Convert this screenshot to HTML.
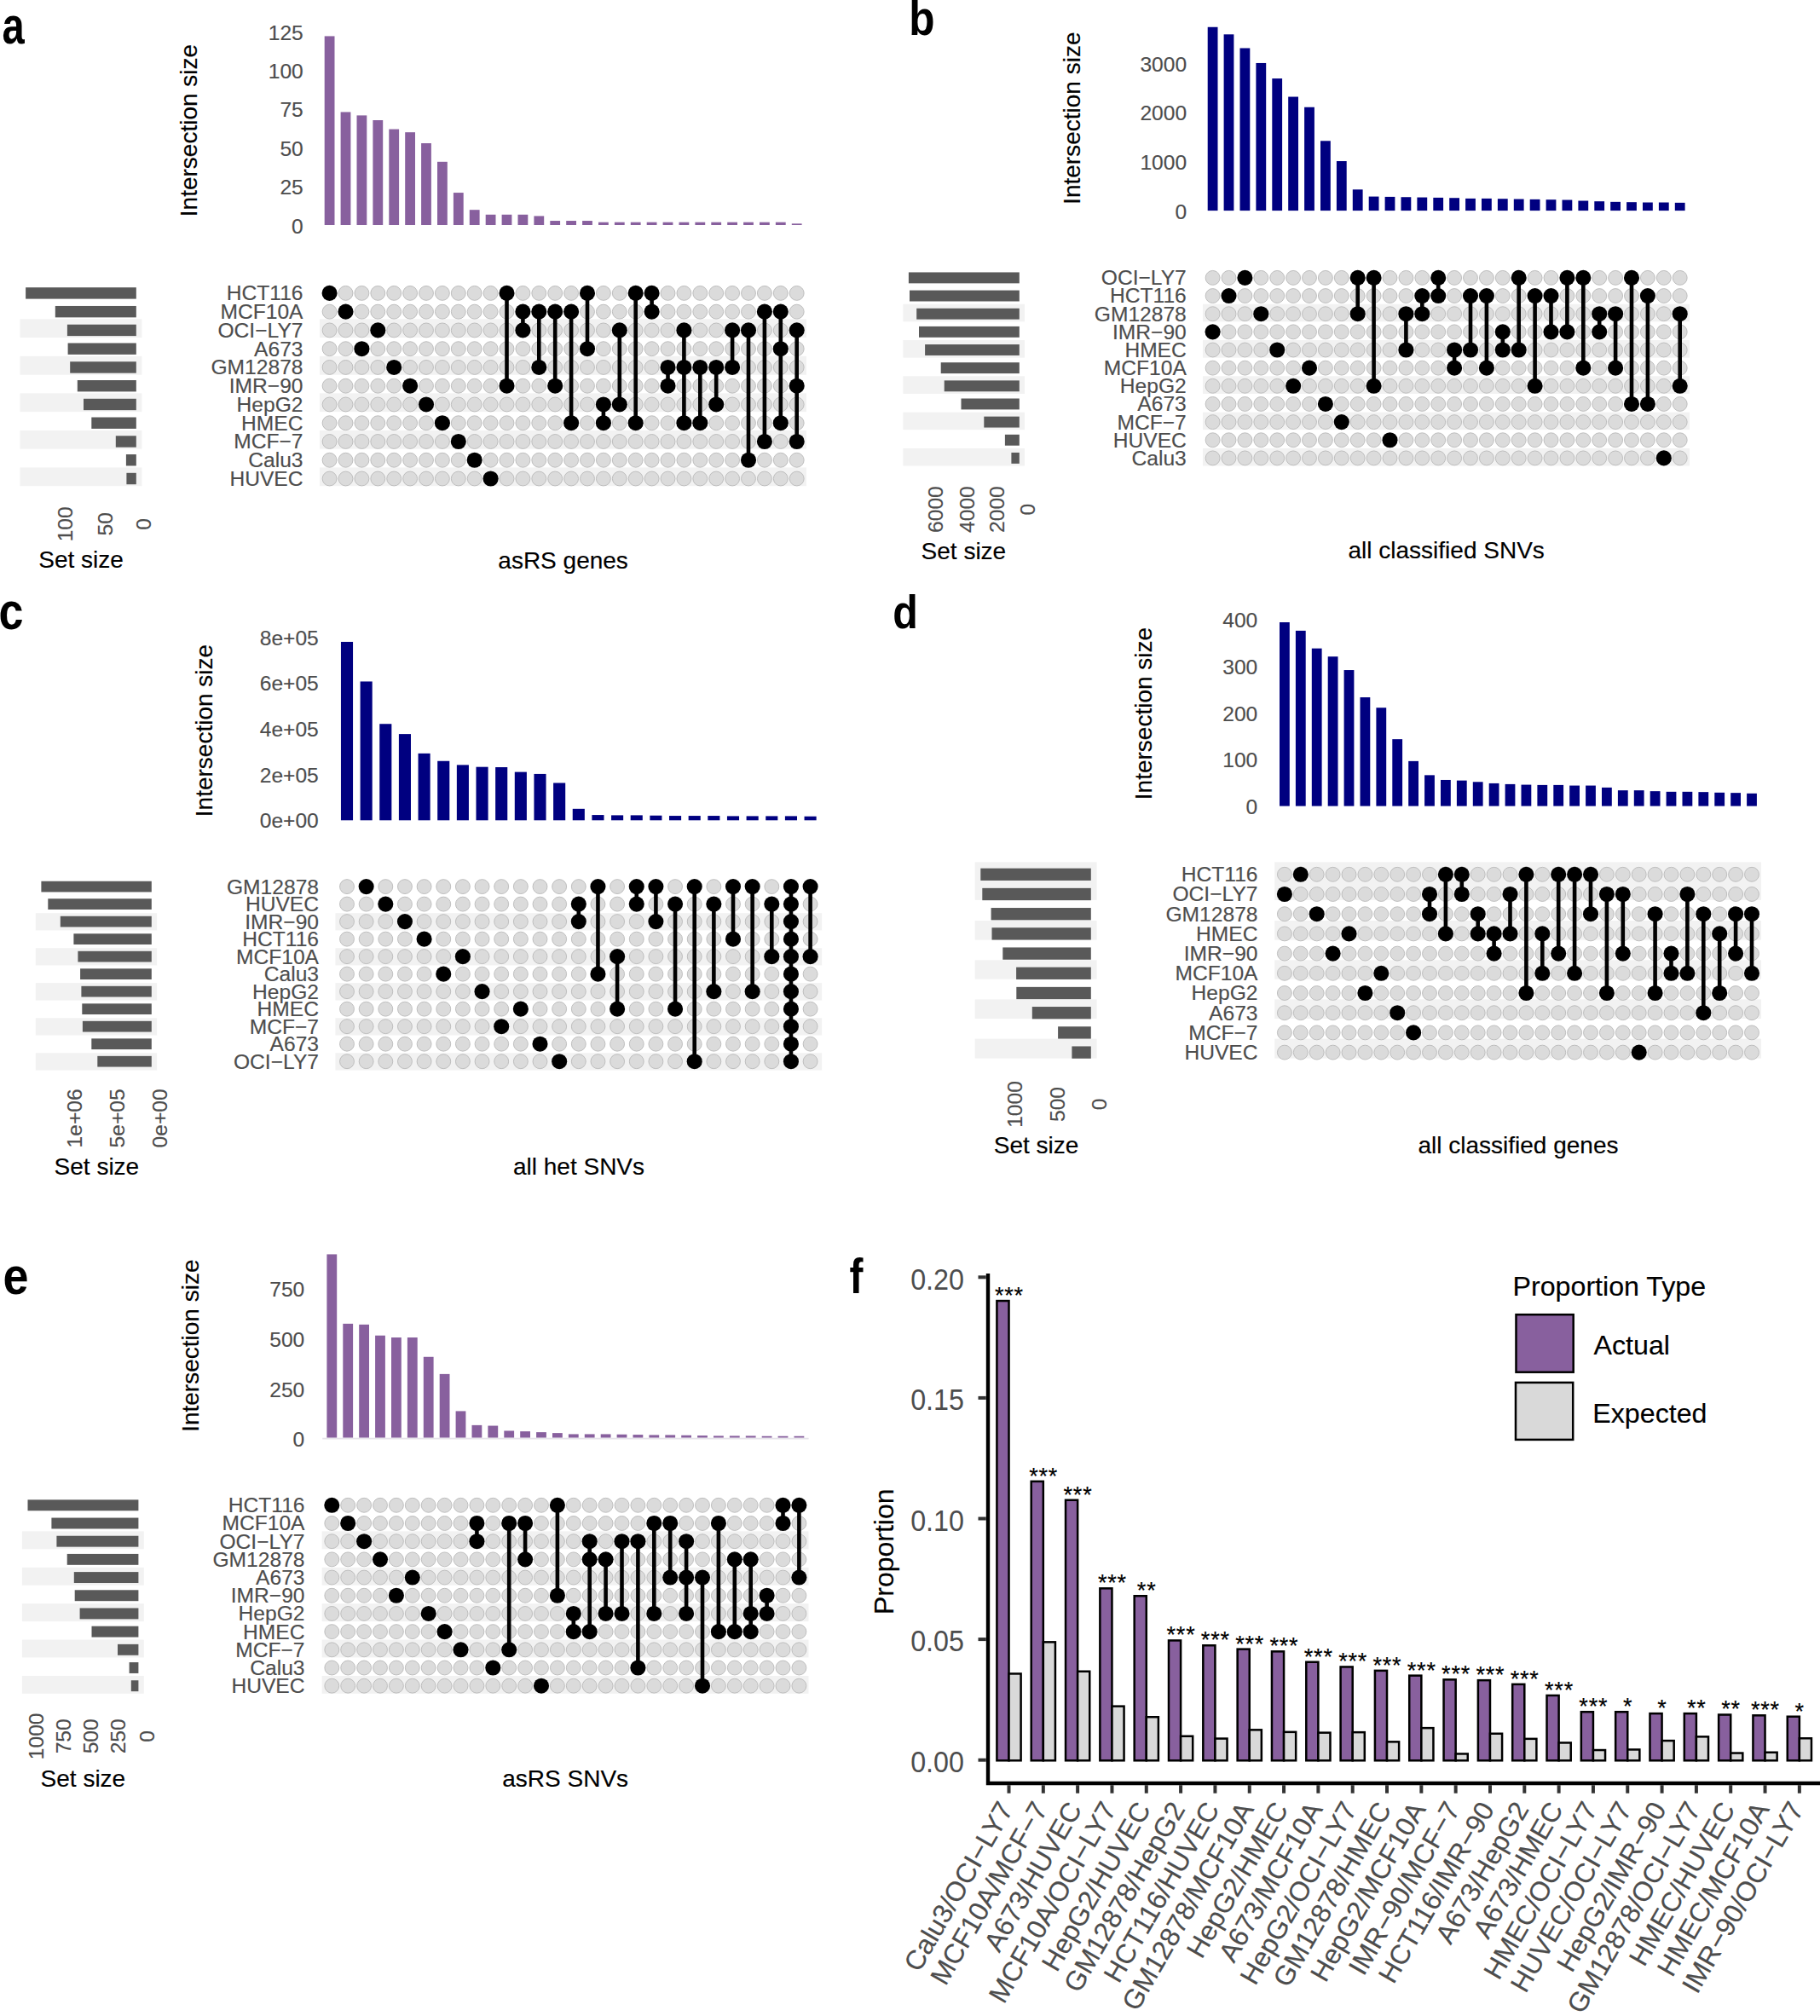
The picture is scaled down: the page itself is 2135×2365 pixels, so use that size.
<!DOCTYPE html>
<html lang="en"><head><meta charset="utf-8"><title>UpSet plots of allele-specific sets</title>
<style>
html,body{margin:0;padding:0;background:#fff}
svg{display:block;font-family:'Liberation Sans', sans-serif}
text{stroke-width:0.15px}
</style></head><body>
<svg width="2135" height="2365" viewBox="0 0 2135 2365">
<rect width="2135" height="2365" fill="#fff"/>
<g id="panel-a">
<text transform="translate(2.4 51) scale(0.76 1)" font-size="62" font-weight="bold">a</text>
<rect x="380.7" y="42.42" width="11.8" height="221.58" fill="#88609e"/>
<rect x="399.6" y="131.44" width="11.8" height="132.56" fill="#88609e"/>
<rect x="418.5" y="135.4" width="11.8" height="128.6" fill="#88609e"/>
<rect x="437.4" y="141" width="11.8" height="123" fill="#88609e"/>
<rect x="456.3" y="151.55" width="11.8" height="112.45" fill="#88609e"/>
<rect x="475.2" y="155.18" width="11.8" height="108.82" fill="#88609e"/>
<rect x="494.1" y="168.04" width="11.8" height="95.96" fill="#88609e"/>
<rect x="513" y="189.8" width="11.8" height="74.2" fill="#88609e"/>
<rect x="531.9" y="226.07" width="11.8" height="37.93" fill="#88609e"/>
<rect x="550.8" y="246.18" width="11.8" height="17.82" fill="#88609e"/>
<rect x="569.7" y="251.78" width="11.8" height="12.22" fill="#88609e"/>
<rect x="588.6" y="251.78" width="11.8" height="12.22" fill="#88609e"/>
<rect x="607.5" y="251.78" width="11.8" height="12.22" fill="#88609e"/>
<rect x="626.4" y="253.43" width="11.8" height="10.57" fill="#88609e"/>
<rect x="645.3" y="259.04" width="11.8" height="4.96" fill="#88609e"/>
<rect x="664.2" y="259.04" width="11.8" height="4.96" fill="#88609e"/>
<rect x="683.1" y="259.04" width="11.8" height="4.96" fill="#88609e"/>
<rect x="702" y="260.69" width="11.8" height="3.31" fill="#88609e"/>
<rect x="720.9" y="260.69" width="11.8" height="3.31" fill="#88609e"/>
<rect x="739.8" y="260.69" width="11.8" height="3.31" fill="#88609e"/>
<rect x="758.7" y="260.69" width="11.8" height="3.31" fill="#88609e"/>
<rect x="777.6" y="260.69" width="11.8" height="3.31" fill="#88609e"/>
<rect x="796.5" y="260.69" width="11.8" height="3.31" fill="#88609e"/>
<rect x="815.4" y="260.69" width="11.8" height="3.31" fill="#88609e"/>
<rect x="834.3" y="260.69" width="11.8" height="3.31" fill="#88609e"/>
<rect x="853.2" y="260.69" width="11.8" height="3.31" fill="#88609e"/>
<rect x="872.1" y="260.69" width="11.8" height="3.31" fill="#88609e"/>
<rect x="891" y="260.69" width="11.8" height="3.31" fill="#88609e"/>
<rect x="909.9" y="260.69" width="11.8" height="3.31" fill="#88609e"/>
<rect x="928.8" y="262.33" width="11.8" height="1.67" fill="#88609e"/>
<text x="355.8" y="273.61" font-size="24.6" text-anchor="end" fill="#4d4d4d" stroke="#4d4d4d">0</text>
<text x="355.8" y="228.21" font-size="24.6" text-anchor="end" fill="#4d4d4d" stroke="#4d4d4d">25</text>
<text x="355.8" y="182.81" font-size="24.6" text-anchor="end" fill="#4d4d4d" stroke="#4d4d4d">50</text>
<text x="355.8" y="137.41" font-size="24.6" text-anchor="end" fill="#4d4d4d" stroke="#4d4d4d">75</text>
<text x="355.8" y="92.01" font-size="24.6" text-anchor="end" fill="#4d4d4d" stroke="#4d4d4d">100</text>
<text x="355.8" y="46.61" font-size="24.6" text-anchor="end" fill="#4d4d4d" stroke="#4d4d4d">125</text>
<text transform="translate(231.2 153) rotate(-90)" font-size="28" text-anchor="middle" stroke="#000">Intersection size</text>
<rect x="375" y="374.32" width="571" height="21.8" fill="#f2f2f2"/>
<rect x="23.5" y="374.32" width="142.9" height="21.8" fill="#f2f2f2"/>
<rect x="375" y="417.84" width="571" height="21.8" fill="#f2f2f2"/>
<rect x="23.5" y="417.84" width="142.9" height="21.8" fill="#f2f2f2"/>
<rect x="375" y="461.36" width="571" height="21.8" fill="#f2f2f2"/>
<rect x="23.5" y="461.36" width="142.9" height="21.8" fill="#f2f2f2"/>
<rect x="375" y="504.88" width="571" height="21.8" fill="#f2f2f2"/>
<rect x="23.5" y="504.88" width="142.9" height="21.8" fill="#f2f2f2"/>
<rect x="375" y="548.4" width="571" height="21.8" fill="#f2f2f2"/>
<rect x="23.5" y="548.4" width="142.9" height="21.8" fill="#f2f2f2"/>
<rect x="30.1" y="337.2" width="129.7" height="13.4" fill="#595959"/>
<rect x="64.8" y="358.96" width="95" height="13.4" fill="#595959"/>
<rect x="78.9" y="380.72" width="80.9" height="13.4" fill="#595959"/>
<rect x="79.6" y="402.48" width="80.2" height="13.4" fill="#595959"/>
<rect x="82.2" y="424.24" width="77.6" height="13.4" fill="#595959"/>
<rect x="90.8" y="446" width="69" height="13.4" fill="#595959"/>
<rect x="98" y="467.76" width="61.8" height="13.4" fill="#595959"/>
<rect x="107.3" y="489.52" width="52.5" height="13.4" fill="#595959"/>
<rect x="135.8" y="511.28" width="24" height="13.4" fill="#595959"/>
<rect x="147.9" y="533.04" width="11.9" height="13.4" fill="#595959"/>
<rect x="148.4" y="554.8" width="11.4" height="13.4" fill="#595959"/>
<text x="355.5" y="352.31" font-size="24.6" text-anchor="end" fill="#4d4d4d" stroke="#4d4d4d">HCT116</text>
<text x="355.5" y="374.07" font-size="24.6" text-anchor="end" fill="#4d4d4d" stroke="#4d4d4d">MCF10A</text>
<text x="355.5" y="395.83" font-size="24.6" text-anchor="end" fill="#4d4d4d" stroke="#4d4d4d">OCI−LY7</text>
<text x="355.5" y="417.59" font-size="24.6" text-anchor="end" fill="#4d4d4d" stroke="#4d4d4d">A673</text>
<text x="355.5" y="439.35" font-size="24.6" text-anchor="end" fill="#4d4d4d" stroke="#4d4d4d">GM12878</text>
<text x="355.5" y="461.11" font-size="24.6" text-anchor="end" fill="#4d4d4d" stroke="#4d4d4d">IMR−90</text>
<text x="355.5" y="482.87" font-size="24.6" text-anchor="end" fill="#4d4d4d" stroke="#4d4d4d">HepG2</text>
<text x="355.5" y="504.63" font-size="24.6" text-anchor="end" fill="#4d4d4d" stroke="#4d4d4d">HMEC</text>
<text x="355.5" y="526.39" font-size="24.6" text-anchor="end" fill="#4d4d4d" stroke="#4d4d4d">MCF−7</text>
<text x="355.5" y="548.15" font-size="24.6" text-anchor="end" fill="#4d4d4d" stroke="#4d4d4d">Calu3</text>
<text x="355.5" y="569.91" font-size="24.6" text-anchor="end" fill="#4d4d4d" stroke="#4d4d4d">HUVEC</text>
<g fill="#dbdbdb" stroke="#b9b9b9" stroke-width="0.9">
<circle cx="386.6" cy="365.66" r="8.45"/>
<circle cx="386.6" cy="387.42" r="8.45"/>
<circle cx="386.6" cy="409.18" r="8.45"/>
<circle cx="386.6" cy="430.94" r="8.45"/>
<circle cx="386.6" cy="452.7" r="8.45"/>
<circle cx="386.6" cy="474.46" r="8.45"/>
<circle cx="386.6" cy="496.22" r="8.45"/>
<circle cx="386.6" cy="517.98" r="8.45"/>
<circle cx="386.6" cy="539.74" r="8.45"/>
<circle cx="386.6" cy="561.5" r="8.45"/>
<circle cx="405.5" cy="343.9" r="8.45"/>
<circle cx="405.5" cy="387.42" r="8.45"/>
<circle cx="405.5" cy="409.18" r="8.45"/>
<circle cx="405.5" cy="430.94" r="8.45"/>
<circle cx="405.5" cy="452.7" r="8.45"/>
<circle cx="405.5" cy="474.46" r="8.45"/>
<circle cx="405.5" cy="496.22" r="8.45"/>
<circle cx="405.5" cy="517.98" r="8.45"/>
<circle cx="405.5" cy="539.74" r="8.45"/>
<circle cx="405.5" cy="561.5" r="8.45"/>
<circle cx="424.4" cy="343.9" r="8.45"/>
<circle cx="424.4" cy="365.66" r="8.45"/>
<circle cx="424.4" cy="387.42" r="8.45"/>
<circle cx="424.4" cy="430.94" r="8.45"/>
<circle cx="424.4" cy="452.7" r="8.45"/>
<circle cx="424.4" cy="474.46" r="8.45"/>
<circle cx="424.4" cy="496.22" r="8.45"/>
<circle cx="424.4" cy="517.98" r="8.45"/>
<circle cx="424.4" cy="539.74" r="8.45"/>
<circle cx="424.4" cy="561.5" r="8.45"/>
<circle cx="443.3" cy="343.9" r="8.45"/>
<circle cx="443.3" cy="365.66" r="8.45"/>
<circle cx="443.3" cy="409.18" r="8.45"/>
<circle cx="443.3" cy="430.94" r="8.45"/>
<circle cx="443.3" cy="452.7" r="8.45"/>
<circle cx="443.3" cy="474.46" r="8.45"/>
<circle cx="443.3" cy="496.22" r="8.45"/>
<circle cx="443.3" cy="517.98" r="8.45"/>
<circle cx="443.3" cy="539.74" r="8.45"/>
<circle cx="443.3" cy="561.5" r="8.45"/>
<circle cx="462.2" cy="343.9" r="8.45"/>
<circle cx="462.2" cy="365.66" r="8.45"/>
<circle cx="462.2" cy="387.42" r="8.45"/>
<circle cx="462.2" cy="409.18" r="8.45"/>
<circle cx="462.2" cy="452.7" r="8.45"/>
<circle cx="462.2" cy="474.46" r="8.45"/>
<circle cx="462.2" cy="496.22" r="8.45"/>
<circle cx="462.2" cy="517.98" r="8.45"/>
<circle cx="462.2" cy="539.74" r="8.45"/>
<circle cx="462.2" cy="561.5" r="8.45"/>
<circle cx="481.1" cy="343.9" r="8.45"/>
<circle cx="481.1" cy="365.66" r="8.45"/>
<circle cx="481.1" cy="387.42" r="8.45"/>
<circle cx="481.1" cy="409.18" r="8.45"/>
<circle cx="481.1" cy="430.94" r="8.45"/>
<circle cx="481.1" cy="474.46" r="8.45"/>
<circle cx="481.1" cy="496.22" r="8.45"/>
<circle cx="481.1" cy="517.98" r="8.45"/>
<circle cx="481.1" cy="539.74" r="8.45"/>
<circle cx="481.1" cy="561.5" r="8.45"/>
<circle cx="500" cy="343.9" r="8.45"/>
<circle cx="500" cy="365.66" r="8.45"/>
<circle cx="500" cy="387.42" r="8.45"/>
<circle cx="500" cy="409.18" r="8.45"/>
<circle cx="500" cy="430.94" r="8.45"/>
<circle cx="500" cy="452.7" r="8.45"/>
<circle cx="500" cy="496.22" r="8.45"/>
<circle cx="500" cy="517.98" r="8.45"/>
<circle cx="500" cy="539.74" r="8.45"/>
<circle cx="500" cy="561.5" r="8.45"/>
<circle cx="518.9" cy="343.9" r="8.45"/>
<circle cx="518.9" cy="365.66" r="8.45"/>
<circle cx="518.9" cy="387.42" r="8.45"/>
<circle cx="518.9" cy="409.18" r="8.45"/>
<circle cx="518.9" cy="430.94" r="8.45"/>
<circle cx="518.9" cy="452.7" r="8.45"/>
<circle cx="518.9" cy="474.46" r="8.45"/>
<circle cx="518.9" cy="517.98" r="8.45"/>
<circle cx="518.9" cy="539.74" r="8.45"/>
<circle cx="518.9" cy="561.5" r="8.45"/>
<circle cx="537.8" cy="343.9" r="8.45"/>
<circle cx="537.8" cy="365.66" r="8.45"/>
<circle cx="537.8" cy="387.42" r="8.45"/>
<circle cx="537.8" cy="409.18" r="8.45"/>
<circle cx="537.8" cy="430.94" r="8.45"/>
<circle cx="537.8" cy="452.7" r="8.45"/>
<circle cx="537.8" cy="474.46" r="8.45"/>
<circle cx="537.8" cy="496.22" r="8.45"/>
<circle cx="537.8" cy="539.74" r="8.45"/>
<circle cx="537.8" cy="561.5" r="8.45"/>
<circle cx="556.7" cy="343.9" r="8.45"/>
<circle cx="556.7" cy="365.66" r="8.45"/>
<circle cx="556.7" cy="387.42" r="8.45"/>
<circle cx="556.7" cy="409.18" r="8.45"/>
<circle cx="556.7" cy="430.94" r="8.45"/>
<circle cx="556.7" cy="452.7" r="8.45"/>
<circle cx="556.7" cy="474.46" r="8.45"/>
<circle cx="556.7" cy="496.22" r="8.45"/>
<circle cx="556.7" cy="517.98" r="8.45"/>
<circle cx="556.7" cy="561.5" r="8.45"/>
<circle cx="575.6" cy="343.9" r="8.45"/>
<circle cx="575.6" cy="365.66" r="8.45"/>
<circle cx="575.6" cy="387.42" r="8.45"/>
<circle cx="575.6" cy="409.18" r="8.45"/>
<circle cx="575.6" cy="430.94" r="8.45"/>
<circle cx="575.6" cy="452.7" r="8.45"/>
<circle cx="575.6" cy="474.46" r="8.45"/>
<circle cx="575.6" cy="496.22" r="8.45"/>
<circle cx="575.6" cy="517.98" r="8.45"/>
<circle cx="575.6" cy="539.74" r="8.45"/>
<circle cx="594.5" cy="365.66" r="8.45"/>
<circle cx="594.5" cy="387.42" r="8.45"/>
<circle cx="594.5" cy="409.18" r="8.45"/>
<circle cx="594.5" cy="430.94" r="8.45"/>
<circle cx="594.5" cy="474.46" r="8.45"/>
<circle cx="594.5" cy="496.22" r="8.45"/>
<circle cx="594.5" cy="517.98" r="8.45"/>
<circle cx="594.5" cy="539.74" r="8.45"/>
<circle cx="594.5" cy="561.5" r="8.45"/>
<circle cx="613.4" cy="343.9" r="8.45"/>
<circle cx="613.4" cy="409.18" r="8.45"/>
<circle cx="613.4" cy="430.94" r="8.45"/>
<circle cx="613.4" cy="452.7" r="8.45"/>
<circle cx="613.4" cy="474.46" r="8.45"/>
<circle cx="613.4" cy="496.22" r="8.45"/>
<circle cx="613.4" cy="517.98" r="8.45"/>
<circle cx="613.4" cy="539.74" r="8.45"/>
<circle cx="613.4" cy="561.5" r="8.45"/>
<circle cx="632.3" cy="343.9" r="8.45"/>
<circle cx="632.3" cy="387.42" r="8.45"/>
<circle cx="632.3" cy="409.18" r="8.45"/>
<circle cx="632.3" cy="452.7" r="8.45"/>
<circle cx="632.3" cy="474.46" r="8.45"/>
<circle cx="632.3" cy="496.22" r="8.45"/>
<circle cx="632.3" cy="517.98" r="8.45"/>
<circle cx="632.3" cy="539.74" r="8.45"/>
<circle cx="632.3" cy="561.5" r="8.45"/>
<circle cx="651.2" cy="343.9" r="8.45"/>
<circle cx="651.2" cy="387.42" r="8.45"/>
<circle cx="651.2" cy="409.18" r="8.45"/>
<circle cx="651.2" cy="430.94" r="8.45"/>
<circle cx="651.2" cy="474.46" r="8.45"/>
<circle cx="651.2" cy="496.22" r="8.45"/>
<circle cx="651.2" cy="517.98" r="8.45"/>
<circle cx="651.2" cy="539.74" r="8.45"/>
<circle cx="651.2" cy="561.5" r="8.45"/>
<circle cx="670.1" cy="343.9" r="8.45"/>
<circle cx="670.1" cy="387.42" r="8.45"/>
<circle cx="670.1" cy="409.18" r="8.45"/>
<circle cx="670.1" cy="430.94" r="8.45"/>
<circle cx="670.1" cy="452.7" r="8.45"/>
<circle cx="670.1" cy="474.46" r="8.45"/>
<circle cx="670.1" cy="517.98" r="8.45"/>
<circle cx="670.1" cy="539.74" r="8.45"/>
<circle cx="670.1" cy="561.5" r="8.45"/>
<circle cx="689" cy="365.66" r="8.45"/>
<circle cx="689" cy="387.42" r="8.45"/>
<circle cx="689" cy="430.94" r="8.45"/>
<circle cx="689" cy="452.7" r="8.45"/>
<circle cx="689" cy="474.46" r="8.45"/>
<circle cx="689" cy="496.22" r="8.45"/>
<circle cx="689" cy="517.98" r="8.45"/>
<circle cx="689" cy="539.74" r="8.45"/>
<circle cx="689" cy="561.5" r="8.45"/>
<circle cx="707.9" cy="343.9" r="8.45"/>
<circle cx="707.9" cy="365.66" r="8.45"/>
<circle cx="707.9" cy="387.42" r="8.45"/>
<circle cx="707.9" cy="409.18" r="8.45"/>
<circle cx="707.9" cy="430.94" r="8.45"/>
<circle cx="707.9" cy="452.7" r="8.45"/>
<circle cx="707.9" cy="517.98" r="8.45"/>
<circle cx="707.9" cy="539.74" r="8.45"/>
<circle cx="707.9" cy="561.5" r="8.45"/>
<circle cx="726.8" cy="343.9" r="8.45"/>
<circle cx="726.8" cy="365.66" r="8.45"/>
<circle cx="726.8" cy="409.18" r="8.45"/>
<circle cx="726.8" cy="430.94" r="8.45"/>
<circle cx="726.8" cy="452.7" r="8.45"/>
<circle cx="726.8" cy="496.22" r="8.45"/>
<circle cx="726.8" cy="517.98" r="8.45"/>
<circle cx="726.8" cy="539.74" r="8.45"/>
<circle cx="726.8" cy="561.5" r="8.45"/>
<circle cx="745.7" cy="365.66" r="8.45"/>
<circle cx="745.7" cy="387.42" r="8.45"/>
<circle cx="745.7" cy="409.18" r="8.45"/>
<circle cx="745.7" cy="430.94" r="8.45"/>
<circle cx="745.7" cy="452.7" r="8.45"/>
<circle cx="745.7" cy="474.46" r="8.45"/>
<circle cx="745.7" cy="517.98" r="8.45"/>
<circle cx="745.7" cy="539.74" r="8.45"/>
<circle cx="745.7" cy="561.5" r="8.45"/>
<circle cx="764.6" cy="387.42" r="8.45"/>
<circle cx="764.6" cy="409.18" r="8.45"/>
<circle cx="764.6" cy="430.94" r="8.45"/>
<circle cx="764.6" cy="452.7" r="8.45"/>
<circle cx="764.6" cy="474.46" r="8.45"/>
<circle cx="764.6" cy="496.22" r="8.45"/>
<circle cx="764.6" cy="517.98" r="8.45"/>
<circle cx="764.6" cy="539.74" r="8.45"/>
<circle cx="764.6" cy="561.5" r="8.45"/>
<circle cx="783.5" cy="343.9" r="8.45"/>
<circle cx="783.5" cy="365.66" r="8.45"/>
<circle cx="783.5" cy="387.42" r="8.45"/>
<circle cx="783.5" cy="409.18" r="8.45"/>
<circle cx="783.5" cy="474.46" r="8.45"/>
<circle cx="783.5" cy="496.22" r="8.45"/>
<circle cx="783.5" cy="517.98" r="8.45"/>
<circle cx="783.5" cy="539.74" r="8.45"/>
<circle cx="783.5" cy="561.5" r="8.45"/>
<circle cx="802.4" cy="343.9" r="8.45"/>
<circle cx="802.4" cy="365.66" r="8.45"/>
<circle cx="802.4" cy="409.18" r="8.45"/>
<circle cx="802.4" cy="452.7" r="8.45"/>
<circle cx="802.4" cy="474.46" r="8.45"/>
<circle cx="802.4" cy="517.98" r="8.45"/>
<circle cx="802.4" cy="539.74" r="8.45"/>
<circle cx="802.4" cy="561.5" r="8.45"/>
<circle cx="821.3" cy="343.9" r="8.45"/>
<circle cx="821.3" cy="365.66" r="8.45"/>
<circle cx="821.3" cy="387.42" r="8.45"/>
<circle cx="821.3" cy="409.18" r="8.45"/>
<circle cx="821.3" cy="452.7" r="8.45"/>
<circle cx="821.3" cy="474.46" r="8.45"/>
<circle cx="821.3" cy="517.98" r="8.45"/>
<circle cx="821.3" cy="539.74" r="8.45"/>
<circle cx="821.3" cy="561.5" r="8.45"/>
<circle cx="840.2" cy="343.9" r="8.45"/>
<circle cx="840.2" cy="365.66" r="8.45"/>
<circle cx="840.2" cy="387.42" r="8.45"/>
<circle cx="840.2" cy="409.18" r="8.45"/>
<circle cx="840.2" cy="452.7" r="8.45"/>
<circle cx="840.2" cy="496.22" r="8.45"/>
<circle cx="840.2" cy="517.98" r="8.45"/>
<circle cx="840.2" cy="539.74" r="8.45"/>
<circle cx="840.2" cy="561.5" r="8.45"/>
<circle cx="859.1" cy="343.9" r="8.45"/>
<circle cx="859.1" cy="365.66" r="8.45"/>
<circle cx="859.1" cy="409.18" r="8.45"/>
<circle cx="859.1" cy="452.7" r="8.45"/>
<circle cx="859.1" cy="474.46" r="8.45"/>
<circle cx="859.1" cy="496.22" r="8.45"/>
<circle cx="859.1" cy="517.98" r="8.45"/>
<circle cx="859.1" cy="539.74" r="8.45"/>
<circle cx="859.1" cy="561.5" r="8.45"/>
<circle cx="878" cy="343.9" r="8.45"/>
<circle cx="878" cy="365.66" r="8.45"/>
<circle cx="878" cy="409.18" r="8.45"/>
<circle cx="878" cy="430.94" r="8.45"/>
<circle cx="878" cy="452.7" r="8.45"/>
<circle cx="878" cy="474.46" r="8.45"/>
<circle cx="878" cy="496.22" r="8.45"/>
<circle cx="878" cy="517.98" r="8.45"/>
<circle cx="878" cy="561.5" r="8.45"/>
<circle cx="896.9" cy="343.9" r="8.45"/>
<circle cx="896.9" cy="387.42" r="8.45"/>
<circle cx="896.9" cy="409.18" r="8.45"/>
<circle cx="896.9" cy="430.94" r="8.45"/>
<circle cx="896.9" cy="452.7" r="8.45"/>
<circle cx="896.9" cy="474.46" r="8.45"/>
<circle cx="896.9" cy="496.22" r="8.45"/>
<circle cx="896.9" cy="539.74" r="8.45"/>
<circle cx="896.9" cy="561.5" r="8.45"/>
<circle cx="915.8" cy="343.9" r="8.45"/>
<circle cx="915.8" cy="387.42" r="8.45"/>
<circle cx="915.8" cy="430.94" r="8.45"/>
<circle cx="915.8" cy="452.7" r="8.45"/>
<circle cx="915.8" cy="474.46" r="8.45"/>
<circle cx="915.8" cy="517.98" r="8.45"/>
<circle cx="915.8" cy="539.74" r="8.45"/>
<circle cx="915.8" cy="561.5" r="8.45"/>
<circle cx="934.7" cy="343.9" r="8.45"/>
<circle cx="934.7" cy="365.66" r="8.45"/>
<circle cx="934.7" cy="409.18" r="8.45"/>
<circle cx="934.7" cy="430.94" r="8.45"/>
<circle cx="934.7" cy="474.46" r="8.45"/>
<circle cx="934.7" cy="496.22" r="8.45"/>
<circle cx="934.7" cy="539.74" r="8.45"/>
<circle cx="934.7" cy="561.5" r="8.45"/>
</g>
<g fill="#000" stroke="#000" stroke-width="4.6">
<line x1="594.5" x2="594.5" y1="343.9" y2="452.7"/>
<line x1="613.4" x2="613.4" y1="365.66" y2="387.42"/>
<line x1="632.3" x2="632.3" y1="365.66" y2="430.94"/>
<line x1="651.2" x2="651.2" y1="365.66" y2="452.7"/>
<line x1="670.1" x2="670.1" y1="365.66" y2="496.22"/>
<line x1="689" x2="689" y1="343.9" y2="409.18"/>
<line x1="707.9" x2="707.9" y1="474.46" y2="496.22"/>
<line x1="726.8" x2="726.8" y1="387.42" y2="474.46"/>
<line x1="745.7" x2="745.7" y1="343.9" y2="496.22"/>
<line x1="764.6" x2="764.6" y1="343.9" y2="365.66"/>
<line x1="783.5" x2="783.5" y1="430.94" y2="452.7"/>
<line x1="802.4" x2="802.4" y1="387.42" y2="496.22"/>
<line x1="821.3" x2="821.3" y1="430.94" y2="496.22"/>
<line x1="840.2" x2="840.2" y1="430.94" y2="474.46"/>
<line x1="859.1" x2="859.1" y1="387.42" y2="430.94"/>
<line x1="878" x2="878" y1="387.42" y2="539.74"/>
<line x1="896.9" x2="896.9" y1="365.66" y2="517.98"/>
<line x1="915.8" x2="915.8" y1="365.66" y2="496.22"/>
<line x1="934.7" x2="934.7" y1="387.42" y2="517.98"/>
</g><g fill="#000">
<circle cx="386.6" cy="343.9" r="9.05"/>
<circle cx="405.5" cy="365.66" r="9.05"/>
<circle cx="424.4" cy="409.18" r="9.05"/>
<circle cx="443.3" cy="387.42" r="9.05"/>
<circle cx="462.2" cy="430.94" r="9.05"/>
<circle cx="481.1" cy="452.7" r="9.05"/>
<circle cx="500" cy="474.46" r="9.05"/>
<circle cx="518.9" cy="496.22" r="9.05"/>
<circle cx="537.8" cy="517.98" r="9.05"/>
<circle cx="556.7" cy="539.74" r="9.05"/>
<circle cx="575.6" cy="561.5" r="9.05"/>
<circle cx="594.5" cy="343.9" r="9.05"/>
<circle cx="594.5" cy="452.7" r="9.05"/>
<circle cx="613.4" cy="365.66" r="9.05"/>
<circle cx="613.4" cy="387.42" r="9.05"/>
<circle cx="632.3" cy="365.66" r="9.05"/>
<circle cx="632.3" cy="430.94" r="9.05"/>
<circle cx="651.2" cy="365.66" r="9.05"/>
<circle cx="651.2" cy="452.7" r="9.05"/>
<circle cx="670.1" cy="365.66" r="9.05"/>
<circle cx="670.1" cy="496.22" r="9.05"/>
<circle cx="689" cy="343.9" r="9.05"/>
<circle cx="689" cy="409.18" r="9.05"/>
<circle cx="707.9" cy="474.46" r="9.05"/>
<circle cx="707.9" cy="496.22" r="9.05"/>
<circle cx="726.8" cy="387.42" r="9.05"/>
<circle cx="726.8" cy="474.46" r="9.05"/>
<circle cx="745.7" cy="343.9" r="9.05"/>
<circle cx="745.7" cy="496.22" r="9.05"/>
<circle cx="764.6" cy="343.9" r="9.05"/>
<circle cx="764.6" cy="365.66" r="9.05"/>
<circle cx="783.5" cy="430.94" r="9.05"/>
<circle cx="783.5" cy="452.7" r="9.05"/>
<circle cx="802.4" cy="387.42" r="9.05"/>
<circle cx="802.4" cy="430.94" r="9.05"/>
<circle cx="802.4" cy="496.22" r="9.05"/>
<circle cx="821.3" cy="430.94" r="9.05"/>
<circle cx="821.3" cy="496.22" r="9.05"/>
<circle cx="840.2" cy="430.94" r="9.05"/>
<circle cx="840.2" cy="474.46" r="9.05"/>
<circle cx="859.1" cy="387.42" r="9.05"/>
<circle cx="859.1" cy="430.94" r="9.05"/>
<circle cx="878" cy="387.42" r="9.05"/>
<circle cx="878" cy="539.74" r="9.05"/>
<circle cx="896.9" cy="365.66" r="9.05"/>
<circle cx="896.9" cy="517.98" r="9.05"/>
<circle cx="915.8" cy="365.66" r="9.05"/>
<circle cx="915.8" cy="409.18" r="9.05"/>
<circle cx="915.8" cy="496.22" r="9.05"/>
<circle cx="934.7" cy="387.42" r="9.05"/>
<circle cx="934.7" cy="452.7" r="9.05"/>
<circle cx="934.7" cy="517.98" r="9.05"/>
</g>
<text transform="translate(85.31 614.8) rotate(-90)" font-size="24.6" text-anchor="middle" fill="#4d4d4d" stroke="#4d4d4d">100</text>
<text transform="translate(131.91 614.8) rotate(-90)" font-size="24.6" text-anchor="middle" fill="#4d4d4d" stroke="#4d4d4d">50</text>
<text transform="translate(176.91 614.8) rotate(-90)" font-size="24.6" text-anchor="middle" fill="#4d4d4d" stroke="#4d4d4d">0</text>
<text x="95.1" y="666" font-size="28" text-anchor="middle" stroke="#000">Set size</text>
<text x="660.6" y="666.5" font-size="28" text-anchor="middle" stroke="#000">asRS genes</text>
</g>
<g id="panel-b">
<text transform="translate(1066.3 40.7) scale(0.87 1)" font-size="57" font-weight="bold">b</text>
<rect x="1416.7" y="31.76" width="11.8" height="215.34" fill="#000080"/>
<rect x="1435.6" y="40.33" width="11.8" height="206.77" fill="#000080"/>
<rect x="1454.5" y="56.49" width="11.8" height="190.61" fill="#000080"/>
<rect x="1473.4" y="73.96" width="11.8" height="173.14" fill="#000080"/>
<rect x="1492.3" y="92.1" width="11.8" height="155" fill="#000080"/>
<rect x="1511.2" y="113.53" width="11.8" height="133.57" fill="#000080"/>
<rect x="1530.1" y="125.73" width="11.8" height="121.37" fill="#000080"/>
<rect x="1549" y="165.29" width="11.8" height="81.81" fill="#000080"/>
<rect x="1567.9" y="189.03" width="11.8" height="58.07" fill="#000080"/>
<rect x="1586.8" y="222.33" width="11.8" height="24.77" fill="#000080"/>
<rect x="1605.7" y="230.57" width="11.8" height="16.53" fill="#000080"/>
<rect x="1624.6" y="230.9" width="11.8" height="16.2" fill="#000080"/>
<rect x="1643.5" y="231.23" width="11.8" height="15.87" fill="#000080"/>
<rect x="1662.4" y="231.56" width="11.8" height="15.54" fill="#000080"/>
<rect x="1681.3" y="231.89" width="11.8" height="15.21" fill="#000080"/>
<rect x="1700.2" y="232.22" width="11.8" height="14.88" fill="#000080"/>
<rect x="1719.1" y="232.88" width="11.8" height="14.22" fill="#000080"/>
<rect x="1738" y="232.88" width="11.8" height="14.22" fill="#000080"/>
<rect x="1756.9" y="233.21" width="11.8" height="13.89" fill="#000080"/>
<rect x="1775.8" y="233.54" width="11.8" height="13.56" fill="#000080"/>
<rect x="1794.7" y="233.87" width="11.8" height="13.23" fill="#000080"/>
<rect x="1813.6" y="234.2" width="11.8" height="12.9" fill="#000080"/>
<rect x="1832.5" y="234.53" width="11.8" height="12.57" fill="#000080"/>
<rect x="1851.4" y="235.52" width="11.8" height="11.58" fill="#000080"/>
<rect x="1870.3" y="236.18" width="11.8" height="10.92" fill="#000080"/>
<rect x="1889.2" y="236.84" width="11.8" height="10.26" fill="#000080"/>
<rect x="1908.1" y="237.17" width="11.8" height="9.93" fill="#000080"/>
<rect x="1927" y="237.5" width="11.8" height="9.6" fill="#000080"/>
<rect x="1945.9" y="237.5" width="11.8" height="9.6" fill="#000080"/>
<rect x="1964.8" y="237.83" width="11.8" height="9.27" fill="#000080"/>
<text x="1392.1" y="256.61" font-size="24.6" text-anchor="end" fill="#4d4d4d" stroke="#4d4d4d">0</text>
<text x="1392.1" y="198.91" font-size="24.6" text-anchor="end" fill="#4d4d4d" stroke="#4d4d4d">1000</text>
<text x="1392.1" y="141.21" font-size="24.6" text-anchor="end" fill="#4d4d4d" stroke="#4d4d4d">2000</text>
<text x="1392.1" y="83.51" font-size="24.6" text-anchor="end" fill="#4d4d4d" stroke="#4d4d4d">3000</text>
<text transform="translate(1267 138.7) rotate(-90)" font-size="28" text-anchor="middle" stroke="#000">Intersection size</text>
<rect x="1411" y="356.7" width="571" height="20.6" fill="#f2f2f2"/>
<rect x="1059.3" y="356.7" width="142.7" height="20.6" fill="#f2f2f2"/>
<rect x="1411" y="399" width="571" height="20.6" fill="#f2f2f2"/>
<rect x="1059.3" y="399" width="142.7" height="20.6" fill="#f2f2f2"/>
<rect x="1411" y="441.3" width="571" height="20.6" fill="#f2f2f2"/>
<rect x="1059.3" y="441.3" width="142.7" height="20.6" fill="#f2f2f2"/>
<rect x="1411" y="483.6" width="571" height="20.6" fill="#f2f2f2"/>
<rect x="1059.3" y="483.6" width="142.7" height="20.6" fill="#f2f2f2"/>
<rect x="1411" y="525.9" width="571" height="20.6" fill="#f2f2f2"/>
<rect x="1059.3" y="525.9" width="142.7" height="20.6" fill="#f2f2f2"/>
<rect x="1065.9" y="319.45" width="129.9" height="12.9" fill="#595959"/>
<rect x="1067" y="340.6" width="128.8" height="12.9" fill="#595959"/>
<rect x="1075.2" y="361.75" width="120.6" height="12.9" fill="#595959"/>
<rect x="1078" y="382.9" width="117.8" height="12.9" fill="#595959"/>
<rect x="1085.1" y="404.05" width="110.7" height="12.9" fill="#595959"/>
<rect x="1103.7" y="425.2" width="92.1" height="12.9" fill="#595959"/>
<rect x="1107.7" y="446.35" width="88.1" height="12.9" fill="#595959"/>
<rect x="1127.5" y="467.5" width="68.3" height="12.9" fill="#595959"/>
<rect x="1154.3" y="488.65" width="41.5" height="12.9" fill="#595959"/>
<rect x="1178.9" y="509.8" width="16.9" height="12.9" fill="#595959"/>
<rect x="1186.4" y="530.95" width="9.4" height="12.9" fill="#595959"/>
<text x="1391.8" y="334.31" font-size="24.6" text-anchor="end" fill="#4d4d4d" stroke="#4d4d4d">OCI−LY7</text>
<text x="1391.8" y="355.46" font-size="24.6" text-anchor="end" fill="#4d4d4d" stroke="#4d4d4d">HCT116</text>
<text x="1391.8" y="376.61" font-size="24.6" text-anchor="end" fill="#4d4d4d" stroke="#4d4d4d">GM12878</text>
<text x="1391.8" y="397.76" font-size="24.6" text-anchor="end" fill="#4d4d4d" stroke="#4d4d4d">IMR−90</text>
<text x="1391.8" y="418.91" font-size="24.6" text-anchor="end" fill="#4d4d4d" stroke="#4d4d4d">HMEC</text>
<text x="1391.8" y="440.06" font-size="24.6" text-anchor="end" fill="#4d4d4d" stroke="#4d4d4d">MCF10A</text>
<text x="1391.8" y="461.21" font-size="24.6" text-anchor="end" fill="#4d4d4d" stroke="#4d4d4d">HepG2</text>
<text x="1391.8" y="482.36" font-size="24.6" text-anchor="end" fill="#4d4d4d" stroke="#4d4d4d">A673</text>
<text x="1391.8" y="503.51" font-size="24.6" text-anchor="end" fill="#4d4d4d" stroke="#4d4d4d">MCF−7</text>
<text x="1391.8" y="524.66" font-size="24.6" text-anchor="end" fill="#4d4d4d" stroke="#4d4d4d">HUVEC</text>
<text x="1391.8" y="545.81" font-size="24.6" text-anchor="end" fill="#4d4d4d" stroke="#4d4d4d">Calu3</text>
<g fill="#dbdbdb" stroke="#b9b9b9" stroke-width="0.9">
<circle cx="1422.6" cy="325.9" r="8.45"/>
<circle cx="1422.6" cy="347.05" r="8.45"/>
<circle cx="1422.6" cy="368.2" r="8.45"/>
<circle cx="1422.6" cy="410.5" r="8.45"/>
<circle cx="1422.6" cy="431.65" r="8.45"/>
<circle cx="1422.6" cy="452.8" r="8.45"/>
<circle cx="1422.6" cy="473.95" r="8.45"/>
<circle cx="1422.6" cy="495.1" r="8.45"/>
<circle cx="1422.6" cy="516.25" r="8.45"/>
<circle cx="1422.6" cy="537.4" r="8.45"/>
<circle cx="1441.5" cy="325.9" r="8.45"/>
<circle cx="1441.5" cy="368.2" r="8.45"/>
<circle cx="1441.5" cy="389.35" r="8.45"/>
<circle cx="1441.5" cy="410.5" r="8.45"/>
<circle cx="1441.5" cy="431.65" r="8.45"/>
<circle cx="1441.5" cy="452.8" r="8.45"/>
<circle cx="1441.5" cy="473.95" r="8.45"/>
<circle cx="1441.5" cy="495.1" r="8.45"/>
<circle cx="1441.5" cy="516.25" r="8.45"/>
<circle cx="1441.5" cy="537.4" r="8.45"/>
<circle cx="1460.4" cy="347.05" r="8.45"/>
<circle cx="1460.4" cy="368.2" r="8.45"/>
<circle cx="1460.4" cy="389.35" r="8.45"/>
<circle cx="1460.4" cy="410.5" r="8.45"/>
<circle cx="1460.4" cy="431.65" r="8.45"/>
<circle cx="1460.4" cy="452.8" r="8.45"/>
<circle cx="1460.4" cy="473.95" r="8.45"/>
<circle cx="1460.4" cy="495.1" r="8.45"/>
<circle cx="1460.4" cy="516.25" r="8.45"/>
<circle cx="1460.4" cy="537.4" r="8.45"/>
<circle cx="1479.3" cy="325.9" r="8.45"/>
<circle cx="1479.3" cy="347.05" r="8.45"/>
<circle cx="1479.3" cy="389.35" r="8.45"/>
<circle cx="1479.3" cy="410.5" r="8.45"/>
<circle cx="1479.3" cy="431.65" r="8.45"/>
<circle cx="1479.3" cy="452.8" r="8.45"/>
<circle cx="1479.3" cy="473.95" r="8.45"/>
<circle cx="1479.3" cy="495.1" r="8.45"/>
<circle cx="1479.3" cy="516.25" r="8.45"/>
<circle cx="1479.3" cy="537.4" r="8.45"/>
<circle cx="1498.2" cy="325.9" r="8.45"/>
<circle cx="1498.2" cy="347.05" r="8.45"/>
<circle cx="1498.2" cy="368.2" r="8.45"/>
<circle cx="1498.2" cy="389.35" r="8.45"/>
<circle cx="1498.2" cy="431.65" r="8.45"/>
<circle cx="1498.2" cy="452.8" r="8.45"/>
<circle cx="1498.2" cy="473.95" r="8.45"/>
<circle cx="1498.2" cy="495.1" r="8.45"/>
<circle cx="1498.2" cy="516.25" r="8.45"/>
<circle cx="1498.2" cy="537.4" r="8.45"/>
<circle cx="1517.1" cy="325.9" r="8.45"/>
<circle cx="1517.1" cy="347.05" r="8.45"/>
<circle cx="1517.1" cy="368.2" r="8.45"/>
<circle cx="1517.1" cy="389.35" r="8.45"/>
<circle cx="1517.1" cy="410.5" r="8.45"/>
<circle cx="1517.1" cy="431.65" r="8.45"/>
<circle cx="1517.1" cy="473.95" r="8.45"/>
<circle cx="1517.1" cy="495.1" r="8.45"/>
<circle cx="1517.1" cy="516.25" r="8.45"/>
<circle cx="1517.1" cy="537.4" r="8.45"/>
<circle cx="1536" cy="325.9" r="8.45"/>
<circle cx="1536" cy="347.05" r="8.45"/>
<circle cx="1536" cy="368.2" r="8.45"/>
<circle cx="1536" cy="389.35" r="8.45"/>
<circle cx="1536" cy="410.5" r="8.45"/>
<circle cx="1536" cy="452.8" r="8.45"/>
<circle cx="1536" cy="473.95" r="8.45"/>
<circle cx="1536" cy="495.1" r="8.45"/>
<circle cx="1536" cy="516.25" r="8.45"/>
<circle cx="1536" cy="537.4" r="8.45"/>
<circle cx="1554.9" cy="325.9" r="8.45"/>
<circle cx="1554.9" cy="347.05" r="8.45"/>
<circle cx="1554.9" cy="368.2" r="8.45"/>
<circle cx="1554.9" cy="389.35" r="8.45"/>
<circle cx="1554.9" cy="410.5" r="8.45"/>
<circle cx="1554.9" cy="431.65" r="8.45"/>
<circle cx="1554.9" cy="452.8" r="8.45"/>
<circle cx="1554.9" cy="495.1" r="8.45"/>
<circle cx="1554.9" cy="516.25" r="8.45"/>
<circle cx="1554.9" cy="537.4" r="8.45"/>
<circle cx="1573.8" cy="325.9" r="8.45"/>
<circle cx="1573.8" cy="347.05" r="8.45"/>
<circle cx="1573.8" cy="368.2" r="8.45"/>
<circle cx="1573.8" cy="389.35" r="8.45"/>
<circle cx="1573.8" cy="410.5" r="8.45"/>
<circle cx="1573.8" cy="431.65" r="8.45"/>
<circle cx="1573.8" cy="452.8" r="8.45"/>
<circle cx="1573.8" cy="473.95" r="8.45"/>
<circle cx="1573.8" cy="516.25" r="8.45"/>
<circle cx="1573.8" cy="537.4" r="8.45"/>
<circle cx="1592.7" cy="347.05" r="8.45"/>
<circle cx="1592.7" cy="389.35" r="8.45"/>
<circle cx="1592.7" cy="410.5" r="8.45"/>
<circle cx="1592.7" cy="431.65" r="8.45"/>
<circle cx="1592.7" cy="452.8" r="8.45"/>
<circle cx="1592.7" cy="473.95" r="8.45"/>
<circle cx="1592.7" cy="495.1" r="8.45"/>
<circle cx="1592.7" cy="516.25" r="8.45"/>
<circle cx="1592.7" cy="537.4" r="8.45"/>
<circle cx="1611.6" cy="347.05" r="8.45"/>
<circle cx="1611.6" cy="368.2" r="8.45"/>
<circle cx="1611.6" cy="389.35" r="8.45"/>
<circle cx="1611.6" cy="410.5" r="8.45"/>
<circle cx="1611.6" cy="431.65" r="8.45"/>
<circle cx="1611.6" cy="473.95" r="8.45"/>
<circle cx="1611.6" cy="495.1" r="8.45"/>
<circle cx="1611.6" cy="516.25" r="8.45"/>
<circle cx="1611.6" cy="537.4" r="8.45"/>
<circle cx="1630.5" cy="325.9" r="8.45"/>
<circle cx="1630.5" cy="347.05" r="8.45"/>
<circle cx="1630.5" cy="368.2" r="8.45"/>
<circle cx="1630.5" cy="389.35" r="8.45"/>
<circle cx="1630.5" cy="410.5" r="8.45"/>
<circle cx="1630.5" cy="431.65" r="8.45"/>
<circle cx="1630.5" cy="452.8" r="8.45"/>
<circle cx="1630.5" cy="473.95" r="8.45"/>
<circle cx="1630.5" cy="495.1" r="8.45"/>
<circle cx="1630.5" cy="537.4" r="8.45"/>
<circle cx="1649.4" cy="325.9" r="8.45"/>
<circle cx="1649.4" cy="347.05" r="8.45"/>
<circle cx="1649.4" cy="389.35" r="8.45"/>
<circle cx="1649.4" cy="431.65" r="8.45"/>
<circle cx="1649.4" cy="452.8" r="8.45"/>
<circle cx="1649.4" cy="473.95" r="8.45"/>
<circle cx="1649.4" cy="495.1" r="8.45"/>
<circle cx="1649.4" cy="516.25" r="8.45"/>
<circle cx="1649.4" cy="537.4" r="8.45"/>
<circle cx="1668.3" cy="325.9" r="8.45"/>
<circle cx="1668.3" cy="389.35" r="8.45"/>
<circle cx="1668.3" cy="410.5" r="8.45"/>
<circle cx="1668.3" cy="431.65" r="8.45"/>
<circle cx="1668.3" cy="452.8" r="8.45"/>
<circle cx="1668.3" cy="473.95" r="8.45"/>
<circle cx="1668.3" cy="495.1" r="8.45"/>
<circle cx="1668.3" cy="516.25" r="8.45"/>
<circle cx="1668.3" cy="537.4" r="8.45"/>
<circle cx="1687.2" cy="368.2" r="8.45"/>
<circle cx="1687.2" cy="389.35" r="8.45"/>
<circle cx="1687.2" cy="410.5" r="8.45"/>
<circle cx="1687.2" cy="431.65" r="8.45"/>
<circle cx="1687.2" cy="452.8" r="8.45"/>
<circle cx="1687.2" cy="473.95" r="8.45"/>
<circle cx="1687.2" cy="495.1" r="8.45"/>
<circle cx="1687.2" cy="516.25" r="8.45"/>
<circle cx="1687.2" cy="537.4" r="8.45"/>
<circle cx="1706.1" cy="325.9" r="8.45"/>
<circle cx="1706.1" cy="347.05" r="8.45"/>
<circle cx="1706.1" cy="368.2" r="8.45"/>
<circle cx="1706.1" cy="389.35" r="8.45"/>
<circle cx="1706.1" cy="452.8" r="8.45"/>
<circle cx="1706.1" cy="473.95" r="8.45"/>
<circle cx="1706.1" cy="495.1" r="8.45"/>
<circle cx="1706.1" cy="516.25" r="8.45"/>
<circle cx="1706.1" cy="537.4" r="8.45"/>
<circle cx="1725" cy="325.9" r="8.45"/>
<circle cx="1725" cy="368.2" r="8.45"/>
<circle cx="1725" cy="389.35" r="8.45"/>
<circle cx="1725" cy="431.65" r="8.45"/>
<circle cx="1725" cy="452.8" r="8.45"/>
<circle cx="1725" cy="473.95" r="8.45"/>
<circle cx="1725" cy="495.1" r="8.45"/>
<circle cx="1725" cy="516.25" r="8.45"/>
<circle cx="1725" cy="537.4" r="8.45"/>
<circle cx="1743.9" cy="325.9" r="8.45"/>
<circle cx="1743.9" cy="368.2" r="8.45"/>
<circle cx="1743.9" cy="389.35" r="8.45"/>
<circle cx="1743.9" cy="410.5" r="8.45"/>
<circle cx="1743.9" cy="452.8" r="8.45"/>
<circle cx="1743.9" cy="473.95" r="8.45"/>
<circle cx="1743.9" cy="495.1" r="8.45"/>
<circle cx="1743.9" cy="516.25" r="8.45"/>
<circle cx="1743.9" cy="537.4" r="8.45"/>
<circle cx="1762.8" cy="325.9" r="8.45"/>
<circle cx="1762.8" cy="347.05" r="8.45"/>
<circle cx="1762.8" cy="368.2" r="8.45"/>
<circle cx="1762.8" cy="431.65" r="8.45"/>
<circle cx="1762.8" cy="452.8" r="8.45"/>
<circle cx="1762.8" cy="473.95" r="8.45"/>
<circle cx="1762.8" cy="495.1" r="8.45"/>
<circle cx="1762.8" cy="516.25" r="8.45"/>
<circle cx="1762.8" cy="537.4" r="8.45"/>
<circle cx="1781.7" cy="347.05" r="8.45"/>
<circle cx="1781.7" cy="368.2" r="8.45"/>
<circle cx="1781.7" cy="389.35" r="8.45"/>
<circle cx="1781.7" cy="431.65" r="8.45"/>
<circle cx="1781.7" cy="452.8" r="8.45"/>
<circle cx="1781.7" cy="473.95" r="8.45"/>
<circle cx="1781.7" cy="495.1" r="8.45"/>
<circle cx="1781.7" cy="516.25" r="8.45"/>
<circle cx="1781.7" cy="537.4" r="8.45"/>
<circle cx="1800.6" cy="325.9" r="8.45"/>
<circle cx="1800.6" cy="368.2" r="8.45"/>
<circle cx="1800.6" cy="389.35" r="8.45"/>
<circle cx="1800.6" cy="410.5" r="8.45"/>
<circle cx="1800.6" cy="431.65" r="8.45"/>
<circle cx="1800.6" cy="473.95" r="8.45"/>
<circle cx="1800.6" cy="495.1" r="8.45"/>
<circle cx="1800.6" cy="516.25" r="8.45"/>
<circle cx="1800.6" cy="537.4" r="8.45"/>
<circle cx="1819.5" cy="325.9" r="8.45"/>
<circle cx="1819.5" cy="368.2" r="8.45"/>
<circle cx="1819.5" cy="410.5" r="8.45"/>
<circle cx="1819.5" cy="431.65" r="8.45"/>
<circle cx="1819.5" cy="452.8" r="8.45"/>
<circle cx="1819.5" cy="473.95" r="8.45"/>
<circle cx="1819.5" cy="495.1" r="8.45"/>
<circle cx="1819.5" cy="516.25" r="8.45"/>
<circle cx="1819.5" cy="537.4" r="8.45"/>
<circle cx="1838.4" cy="347.05" r="8.45"/>
<circle cx="1838.4" cy="368.2" r="8.45"/>
<circle cx="1838.4" cy="410.5" r="8.45"/>
<circle cx="1838.4" cy="431.65" r="8.45"/>
<circle cx="1838.4" cy="452.8" r="8.45"/>
<circle cx="1838.4" cy="473.95" r="8.45"/>
<circle cx="1838.4" cy="495.1" r="8.45"/>
<circle cx="1838.4" cy="516.25" r="8.45"/>
<circle cx="1838.4" cy="537.4" r="8.45"/>
<circle cx="1857.3" cy="347.05" r="8.45"/>
<circle cx="1857.3" cy="368.2" r="8.45"/>
<circle cx="1857.3" cy="389.35" r="8.45"/>
<circle cx="1857.3" cy="410.5" r="8.45"/>
<circle cx="1857.3" cy="452.8" r="8.45"/>
<circle cx="1857.3" cy="473.95" r="8.45"/>
<circle cx="1857.3" cy="495.1" r="8.45"/>
<circle cx="1857.3" cy="516.25" r="8.45"/>
<circle cx="1857.3" cy="537.4" r="8.45"/>
<circle cx="1876.2" cy="325.9" r="8.45"/>
<circle cx="1876.2" cy="347.05" r="8.45"/>
<circle cx="1876.2" cy="410.5" r="8.45"/>
<circle cx="1876.2" cy="431.65" r="8.45"/>
<circle cx="1876.2" cy="452.8" r="8.45"/>
<circle cx="1876.2" cy="473.95" r="8.45"/>
<circle cx="1876.2" cy="495.1" r="8.45"/>
<circle cx="1876.2" cy="516.25" r="8.45"/>
<circle cx="1876.2" cy="537.4" r="8.45"/>
<circle cx="1895.1" cy="325.9" r="8.45"/>
<circle cx="1895.1" cy="347.05" r="8.45"/>
<circle cx="1895.1" cy="389.35" r="8.45"/>
<circle cx="1895.1" cy="410.5" r="8.45"/>
<circle cx="1895.1" cy="452.8" r="8.45"/>
<circle cx="1895.1" cy="473.95" r="8.45"/>
<circle cx="1895.1" cy="495.1" r="8.45"/>
<circle cx="1895.1" cy="516.25" r="8.45"/>
<circle cx="1895.1" cy="537.4" r="8.45"/>
<circle cx="1914" cy="347.05" r="8.45"/>
<circle cx="1914" cy="368.2" r="8.45"/>
<circle cx="1914" cy="389.35" r="8.45"/>
<circle cx="1914" cy="410.5" r="8.45"/>
<circle cx="1914" cy="431.65" r="8.45"/>
<circle cx="1914" cy="452.8" r="8.45"/>
<circle cx="1914" cy="495.1" r="8.45"/>
<circle cx="1914" cy="516.25" r="8.45"/>
<circle cx="1914" cy="537.4" r="8.45"/>
<circle cx="1932.9" cy="325.9" r="8.45"/>
<circle cx="1932.9" cy="368.2" r="8.45"/>
<circle cx="1932.9" cy="389.35" r="8.45"/>
<circle cx="1932.9" cy="410.5" r="8.45"/>
<circle cx="1932.9" cy="431.65" r="8.45"/>
<circle cx="1932.9" cy="452.8" r="8.45"/>
<circle cx="1932.9" cy="495.1" r="8.45"/>
<circle cx="1932.9" cy="516.25" r="8.45"/>
<circle cx="1932.9" cy="537.4" r="8.45"/>
<circle cx="1951.8" cy="325.9" r="8.45"/>
<circle cx="1951.8" cy="347.05" r="8.45"/>
<circle cx="1951.8" cy="368.2" r="8.45"/>
<circle cx="1951.8" cy="389.35" r="8.45"/>
<circle cx="1951.8" cy="410.5" r="8.45"/>
<circle cx="1951.8" cy="431.65" r="8.45"/>
<circle cx="1951.8" cy="452.8" r="8.45"/>
<circle cx="1951.8" cy="473.95" r="8.45"/>
<circle cx="1951.8" cy="495.1" r="8.45"/>
<circle cx="1951.8" cy="516.25" r="8.45"/>
<circle cx="1970.7" cy="325.9" r="8.45"/>
<circle cx="1970.7" cy="347.05" r="8.45"/>
<circle cx="1970.7" cy="389.35" r="8.45"/>
<circle cx="1970.7" cy="410.5" r="8.45"/>
<circle cx="1970.7" cy="431.65" r="8.45"/>
<circle cx="1970.7" cy="473.95" r="8.45"/>
<circle cx="1970.7" cy="495.1" r="8.45"/>
<circle cx="1970.7" cy="516.25" r="8.45"/>
<circle cx="1970.7" cy="537.4" r="8.45"/>
</g>
<g fill="#000" stroke="#000" stroke-width="4.6">
<line x1="1592.7" x2="1592.7" y1="325.9" y2="368.2"/>
<line x1="1611.6" x2="1611.6" y1="325.9" y2="452.8"/>
<line x1="1649.4" x2="1649.4" y1="368.2" y2="410.5"/>
<line x1="1668.3" x2="1668.3" y1="347.05" y2="368.2"/>
<line x1="1687.2" x2="1687.2" y1="325.9" y2="347.05"/>
<line x1="1706.1" x2="1706.1" y1="410.5" y2="431.65"/>
<line x1="1725" x2="1725" y1="347.05" y2="410.5"/>
<line x1="1743.9" x2="1743.9" y1="347.05" y2="431.65"/>
<line x1="1762.8" x2="1762.8" y1="389.35" y2="410.5"/>
<line x1="1781.7" x2="1781.7" y1="325.9" y2="410.5"/>
<line x1="1800.6" x2="1800.6" y1="347.05" y2="452.8"/>
<line x1="1819.5" x2="1819.5" y1="347.05" y2="389.35"/>
<line x1="1838.4" x2="1838.4" y1="325.9" y2="389.35"/>
<line x1="1857.3" x2="1857.3" y1="325.9" y2="431.65"/>
<line x1="1876.2" x2="1876.2" y1="368.2" y2="389.35"/>
<line x1="1895.1" x2="1895.1" y1="368.2" y2="431.65"/>
<line x1="1914" x2="1914" y1="325.9" y2="473.95"/>
<line x1="1932.9" x2="1932.9" y1="347.05" y2="473.95"/>
<line x1="1970.7" x2="1970.7" y1="368.2" y2="452.8"/>
</g><g fill="#000">
<circle cx="1422.6" cy="389.35" r="9.05"/>
<circle cx="1441.5" cy="347.05" r="9.05"/>
<circle cx="1460.4" cy="325.9" r="9.05"/>
<circle cx="1479.3" cy="368.2" r="9.05"/>
<circle cx="1498.2" cy="410.5" r="9.05"/>
<circle cx="1517.1" cy="452.8" r="9.05"/>
<circle cx="1536" cy="431.65" r="9.05"/>
<circle cx="1554.9" cy="473.95" r="9.05"/>
<circle cx="1573.8" cy="495.1" r="9.05"/>
<circle cx="1592.7" cy="325.9" r="9.05"/>
<circle cx="1592.7" cy="368.2" r="9.05"/>
<circle cx="1611.6" cy="325.9" r="9.05"/>
<circle cx="1611.6" cy="452.8" r="9.05"/>
<circle cx="1630.5" cy="516.25" r="9.05"/>
<circle cx="1649.4" cy="368.2" r="9.05"/>
<circle cx="1649.4" cy="410.5" r="9.05"/>
<circle cx="1668.3" cy="347.05" r="9.05"/>
<circle cx="1668.3" cy="368.2" r="9.05"/>
<circle cx="1687.2" cy="325.9" r="9.05"/>
<circle cx="1687.2" cy="347.05" r="9.05"/>
<circle cx="1706.1" cy="410.5" r="9.05"/>
<circle cx="1706.1" cy="431.65" r="9.05"/>
<circle cx="1725" cy="347.05" r="9.05"/>
<circle cx="1725" cy="410.5" r="9.05"/>
<circle cx="1743.9" cy="347.05" r="9.05"/>
<circle cx="1743.9" cy="431.65" r="9.05"/>
<circle cx="1762.8" cy="389.35" r="9.05"/>
<circle cx="1762.8" cy="410.5" r="9.05"/>
<circle cx="1781.7" cy="325.9" r="9.05"/>
<circle cx="1781.7" cy="410.5" r="9.05"/>
<circle cx="1800.6" cy="347.05" r="9.05"/>
<circle cx="1800.6" cy="452.8" r="9.05"/>
<circle cx="1819.5" cy="347.05" r="9.05"/>
<circle cx="1819.5" cy="389.35" r="9.05"/>
<circle cx="1838.4" cy="325.9" r="9.05"/>
<circle cx="1838.4" cy="389.35" r="9.05"/>
<circle cx="1857.3" cy="325.9" r="9.05"/>
<circle cx="1857.3" cy="431.65" r="9.05"/>
<circle cx="1876.2" cy="368.2" r="9.05"/>
<circle cx="1876.2" cy="389.35" r="9.05"/>
<circle cx="1895.1" cy="368.2" r="9.05"/>
<circle cx="1895.1" cy="431.65" r="9.05"/>
<circle cx="1914" cy="325.9" r="9.05"/>
<circle cx="1914" cy="473.95" r="9.05"/>
<circle cx="1932.9" cy="347.05" r="9.05"/>
<circle cx="1932.9" cy="473.95" r="9.05"/>
<circle cx="1951.8" cy="537.4" r="9.05"/>
<circle cx="1970.7" cy="368.2" r="9.05"/>
<circle cx="1970.7" cy="452.8" r="9.05"/>
</g>
<text transform="translate(1106.41 597.6) rotate(-90)" font-size="24.6" text-anchor="middle" fill="#4d4d4d" stroke="#4d4d4d">6000</text>
<text transform="translate(1142.81 597.6) rotate(-90)" font-size="24.6" text-anchor="middle" fill="#4d4d4d" stroke="#4d4d4d">4000</text>
<text transform="translate(1177.81 597.6) rotate(-90)" font-size="24.6" text-anchor="middle" fill="#4d4d4d" stroke="#4d4d4d">2000</text>
<text transform="translate(1214.11 597.6) rotate(-90)" font-size="24.6" text-anchor="middle" fill="#4d4d4d" stroke="#4d4d4d">0</text>
<text x="1130.4" y="656" font-size="28" text-anchor="middle" stroke="#000">Set size</text>
<text x="1696.7" y="655.4" font-size="28" text-anchor="middle" stroke="#000">all classified SNVs</text>
</g>
<g id="panel-c">
<text transform="translate(-1.6 738.4) scale(0.84 1)" font-size="62" font-weight="bold">c</text>
<rect x="399.95" y="752.97" width="14.1" height="209.33" fill="#000080"/>
<rect x="422.6" y="799.46" width="14.1" height="162.84" fill="#000080"/>
<rect x="445.25" y="849.24" width="14.1" height="113.06" fill="#000080"/>
<rect x="467.9" y="861.11" width="14.1" height="101.19" fill="#000080"/>
<rect x="490.55" y="883.86" width="14.1" height="78.44" fill="#000080"/>
<rect x="513.2" y="892.77" width="14.1" height="69.53" fill="#000080"/>
<rect x="535.85" y="897.38" width="14.1" height="64.92" fill="#000080"/>
<rect x="558.5" y="899.69" width="14.1" height="62.61" fill="#000080"/>
<rect x="581.15" y="900.02" width="14.1" height="62.28" fill="#000080"/>
<rect x="603.8" y="905.62" width="14.1" height="56.68" fill="#000080"/>
<rect x="626.45" y="907.93" width="14.1" height="54.37" fill="#000080"/>
<rect x="649.1" y="918.48" width="14.1" height="43.82" fill="#000080"/>
<rect x="671.75" y="948.82" width="14.1" height="13.48" fill="#000080"/>
<rect x="694.4" y="956.07" width="14.1" height="6.23" fill="#000080"/>
<rect x="717.05" y="956.4" width="14.1" height="5.9" fill="#000080"/>
<rect x="739.7" y="956.4" width="14.1" height="5.9" fill="#000080"/>
<rect x="762.35" y="956.73" width="14.1" height="5.57" fill="#000080"/>
<rect x="785" y="957.06" width="14.1" height="5.24" fill="#000080"/>
<rect x="807.65" y="957.06" width="14.1" height="5.24" fill="#000080"/>
<rect x="830.3" y="957.06" width="14.1" height="5.24" fill="#000080"/>
<rect x="852.95" y="957.39" width="14.1" height="4.91" fill="#000080"/>
<rect x="875.6" y="957.39" width="14.1" height="4.91" fill="#000080"/>
<rect x="898.25" y="957.39" width="14.1" height="4.91" fill="#000080"/>
<rect x="920.9" y="957.39" width="14.1" height="4.91" fill="#000080"/>
<rect x="943.55" y="957.72" width="14.1" height="4.58" fill="#000080"/>
<text x="373.8" y="971.31" font-size="24.6" text-anchor="end" fill="#4d4d4d" stroke="#4d4d4d">0e+00</text>
<text x="373.8" y="917.61" font-size="24.6" text-anchor="end" fill="#4d4d4d" stroke="#4d4d4d">2e+05</text>
<text x="373.8" y="864.01" font-size="24.6" text-anchor="end" fill="#4d4d4d" stroke="#4d4d4d">4e+05</text>
<text x="373.8" y="810.41" font-size="24.6" text-anchor="end" fill="#4d4d4d" stroke="#4d4d4d">6e+05</text>
<text x="373.8" y="756.81" font-size="24.6" text-anchor="end" fill="#4d4d4d" stroke="#4d4d4d">8e+05</text>
<text transform="translate(248.5 857) rotate(-90)" font-size="28" text-anchor="middle" stroke="#000">Intersection size</text>
<rect x="393.4" y="1071.17" width="570.8" height="20.3" fill="#f2f2f2"/>
<rect x="41.8" y="1071.17" width="142.4" height="20.3" fill="#f2f2f2"/>
<rect x="393.4" y="1112.19" width="570.8" height="20.3" fill="#f2f2f2"/>
<rect x="41.8" y="1112.19" width="142.4" height="20.3" fill="#f2f2f2"/>
<rect x="393.4" y="1153.21" width="570.8" height="20.3" fill="#f2f2f2"/>
<rect x="41.8" y="1153.21" width="142.4" height="20.3" fill="#f2f2f2"/>
<rect x="393.4" y="1194.23" width="570.8" height="20.3" fill="#f2f2f2"/>
<rect x="41.8" y="1194.23" width="142.4" height="20.3" fill="#f2f2f2"/>
<rect x="393.4" y="1235.25" width="570.8" height="20.3" fill="#f2f2f2"/>
<rect x="41.8" y="1235.25" width="142.4" height="20.3" fill="#f2f2f2"/>
<rect x="48.4" y="1033.75" width="129.4" height="12.7" fill="#595959"/>
<rect x="56.3" y="1054.26" width="121.5" height="12.7" fill="#595959"/>
<rect x="70.8" y="1074.77" width="107" height="12.7" fill="#595959"/>
<rect x="86.4" y="1095.28" width="91.4" height="12.7" fill="#595959"/>
<rect x="91.4" y="1115.79" width="86.4" height="12.7" fill="#595959"/>
<rect x="94.1" y="1136.3" width="83.7" height="12.7" fill="#595959"/>
<rect x="95.4" y="1156.81" width="82.4" height="12.7" fill="#595959"/>
<rect x="96.3" y="1177.32" width="81.5" height="12.7" fill="#595959"/>
<rect x="96.9" y="1197.83" width="80.9" height="12.7" fill="#595959"/>
<rect x="107.3" y="1218.34" width="70.5" height="12.7" fill="#595959"/>
<rect x="114.3" y="1238.85" width="63.5" height="12.7" fill="#595959"/>
<text x="374" y="1048.51" font-size="24.6" text-anchor="end" fill="#4d4d4d" stroke="#4d4d4d">GM12878</text>
<text x="374" y="1069.02" font-size="24.6" text-anchor="end" fill="#4d4d4d" stroke="#4d4d4d">HUVEC</text>
<text x="374" y="1089.53" font-size="24.6" text-anchor="end" fill="#4d4d4d" stroke="#4d4d4d">IMR−90</text>
<text x="374" y="1110.04" font-size="24.6" text-anchor="end" fill="#4d4d4d" stroke="#4d4d4d">HCT116</text>
<text x="374" y="1130.55" font-size="24.6" text-anchor="end" fill="#4d4d4d" stroke="#4d4d4d">MCF10A</text>
<text x="374" y="1151.06" font-size="24.6" text-anchor="end" fill="#4d4d4d" stroke="#4d4d4d">Calu3</text>
<text x="374" y="1171.57" font-size="24.6" text-anchor="end" fill="#4d4d4d" stroke="#4d4d4d">HepG2</text>
<text x="374" y="1192.08" font-size="24.6" text-anchor="end" fill="#4d4d4d" stroke="#4d4d4d">HMEC</text>
<text x="374" y="1212.59" font-size="24.6" text-anchor="end" fill="#4d4d4d" stroke="#4d4d4d">MCF−7</text>
<text x="374" y="1233.1" font-size="24.6" text-anchor="end" fill="#4d4d4d" stroke="#4d4d4d">A673</text>
<text x="374" y="1253.61" font-size="24.6" text-anchor="end" fill="#4d4d4d" stroke="#4d4d4d">OCI−LY7</text>
<g fill="#dbdbdb" stroke="#b9b9b9" stroke-width="0.9">
<circle cx="407" cy="1040.1" r="8.45"/>
<circle cx="407" cy="1060.61" r="8.45"/>
<circle cx="407" cy="1081.12" r="8.45"/>
<circle cx="407" cy="1101.63" r="8.45"/>
<circle cx="407" cy="1122.14" r="8.45"/>
<circle cx="407" cy="1142.65" r="8.45"/>
<circle cx="407" cy="1163.16" r="8.45"/>
<circle cx="407" cy="1183.67" r="8.45"/>
<circle cx="407" cy="1204.18" r="8.45"/>
<circle cx="407" cy="1224.69" r="8.45"/>
<circle cx="407" cy="1245.2" r="8.45"/>
<circle cx="429.65" cy="1060.61" r="8.45"/>
<circle cx="429.65" cy="1081.12" r="8.45"/>
<circle cx="429.65" cy="1101.63" r="8.45"/>
<circle cx="429.65" cy="1122.14" r="8.45"/>
<circle cx="429.65" cy="1142.65" r="8.45"/>
<circle cx="429.65" cy="1163.16" r="8.45"/>
<circle cx="429.65" cy="1183.67" r="8.45"/>
<circle cx="429.65" cy="1204.18" r="8.45"/>
<circle cx="429.65" cy="1224.69" r="8.45"/>
<circle cx="429.65" cy="1245.2" r="8.45"/>
<circle cx="452.3" cy="1040.1" r="8.45"/>
<circle cx="452.3" cy="1081.12" r="8.45"/>
<circle cx="452.3" cy="1101.63" r="8.45"/>
<circle cx="452.3" cy="1122.14" r="8.45"/>
<circle cx="452.3" cy="1142.65" r="8.45"/>
<circle cx="452.3" cy="1163.16" r="8.45"/>
<circle cx="452.3" cy="1183.67" r="8.45"/>
<circle cx="452.3" cy="1204.18" r="8.45"/>
<circle cx="452.3" cy="1224.69" r="8.45"/>
<circle cx="452.3" cy="1245.2" r="8.45"/>
<circle cx="474.95" cy="1040.1" r="8.45"/>
<circle cx="474.95" cy="1060.61" r="8.45"/>
<circle cx="474.95" cy="1101.63" r="8.45"/>
<circle cx="474.95" cy="1122.14" r="8.45"/>
<circle cx="474.95" cy="1142.65" r="8.45"/>
<circle cx="474.95" cy="1163.16" r="8.45"/>
<circle cx="474.95" cy="1183.67" r="8.45"/>
<circle cx="474.95" cy="1204.18" r="8.45"/>
<circle cx="474.95" cy="1224.69" r="8.45"/>
<circle cx="474.95" cy="1245.2" r="8.45"/>
<circle cx="497.6" cy="1040.1" r="8.45"/>
<circle cx="497.6" cy="1060.61" r="8.45"/>
<circle cx="497.6" cy="1081.12" r="8.45"/>
<circle cx="497.6" cy="1122.14" r="8.45"/>
<circle cx="497.6" cy="1142.65" r="8.45"/>
<circle cx="497.6" cy="1163.16" r="8.45"/>
<circle cx="497.6" cy="1183.67" r="8.45"/>
<circle cx="497.6" cy="1204.18" r="8.45"/>
<circle cx="497.6" cy="1224.69" r="8.45"/>
<circle cx="497.6" cy="1245.2" r="8.45"/>
<circle cx="520.25" cy="1040.1" r="8.45"/>
<circle cx="520.25" cy="1060.61" r="8.45"/>
<circle cx="520.25" cy="1081.12" r="8.45"/>
<circle cx="520.25" cy="1101.63" r="8.45"/>
<circle cx="520.25" cy="1122.14" r="8.45"/>
<circle cx="520.25" cy="1163.16" r="8.45"/>
<circle cx="520.25" cy="1183.67" r="8.45"/>
<circle cx="520.25" cy="1204.18" r="8.45"/>
<circle cx="520.25" cy="1224.69" r="8.45"/>
<circle cx="520.25" cy="1245.2" r="8.45"/>
<circle cx="542.9" cy="1040.1" r="8.45"/>
<circle cx="542.9" cy="1060.61" r="8.45"/>
<circle cx="542.9" cy="1081.12" r="8.45"/>
<circle cx="542.9" cy="1101.63" r="8.45"/>
<circle cx="542.9" cy="1142.65" r="8.45"/>
<circle cx="542.9" cy="1163.16" r="8.45"/>
<circle cx="542.9" cy="1183.67" r="8.45"/>
<circle cx="542.9" cy="1204.18" r="8.45"/>
<circle cx="542.9" cy="1224.69" r="8.45"/>
<circle cx="542.9" cy="1245.2" r="8.45"/>
<circle cx="565.55" cy="1040.1" r="8.45"/>
<circle cx="565.55" cy="1060.61" r="8.45"/>
<circle cx="565.55" cy="1081.12" r="8.45"/>
<circle cx="565.55" cy="1101.63" r="8.45"/>
<circle cx="565.55" cy="1122.14" r="8.45"/>
<circle cx="565.55" cy="1142.65" r="8.45"/>
<circle cx="565.55" cy="1183.67" r="8.45"/>
<circle cx="565.55" cy="1204.18" r="8.45"/>
<circle cx="565.55" cy="1224.69" r="8.45"/>
<circle cx="565.55" cy="1245.2" r="8.45"/>
<circle cx="588.2" cy="1040.1" r="8.45"/>
<circle cx="588.2" cy="1060.61" r="8.45"/>
<circle cx="588.2" cy="1081.12" r="8.45"/>
<circle cx="588.2" cy="1101.63" r="8.45"/>
<circle cx="588.2" cy="1122.14" r="8.45"/>
<circle cx="588.2" cy="1142.65" r="8.45"/>
<circle cx="588.2" cy="1163.16" r="8.45"/>
<circle cx="588.2" cy="1183.67" r="8.45"/>
<circle cx="588.2" cy="1224.69" r="8.45"/>
<circle cx="588.2" cy="1245.2" r="8.45"/>
<circle cx="610.85" cy="1040.1" r="8.45"/>
<circle cx="610.85" cy="1060.61" r="8.45"/>
<circle cx="610.85" cy="1081.12" r="8.45"/>
<circle cx="610.85" cy="1101.63" r="8.45"/>
<circle cx="610.85" cy="1122.14" r="8.45"/>
<circle cx="610.85" cy="1142.65" r="8.45"/>
<circle cx="610.85" cy="1163.16" r="8.45"/>
<circle cx="610.85" cy="1204.18" r="8.45"/>
<circle cx="610.85" cy="1224.69" r="8.45"/>
<circle cx="610.85" cy="1245.2" r="8.45"/>
<circle cx="633.5" cy="1040.1" r="8.45"/>
<circle cx="633.5" cy="1060.61" r="8.45"/>
<circle cx="633.5" cy="1081.12" r="8.45"/>
<circle cx="633.5" cy="1101.63" r="8.45"/>
<circle cx="633.5" cy="1122.14" r="8.45"/>
<circle cx="633.5" cy="1142.65" r="8.45"/>
<circle cx="633.5" cy="1163.16" r="8.45"/>
<circle cx="633.5" cy="1183.67" r="8.45"/>
<circle cx="633.5" cy="1204.18" r="8.45"/>
<circle cx="633.5" cy="1245.2" r="8.45"/>
<circle cx="656.15" cy="1040.1" r="8.45"/>
<circle cx="656.15" cy="1060.61" r="8.45"/>
<circle cx="656.15" cy="1081.12" r="8.45"/>
<circle cx="656.15" cy="1101.63" r="8.45"/>
<circle cx="656.15" cy="1122.14" r="8.45"/>
<circle cx="656.15" cy="1142.65" r="8.45"/>
<circle cx="656.15" cy="1163.16" r="8.45"/>
<circle cx="656.15" cy="1183.67" r="8.45"/>
<circle cx="656.15" cy="1204.18" r="8.45"/>
<circle cx="656.15" cy="1224.69" r="8.45"/>
<circle cx="678.8" cy="1040.1" r="8.45"/>
<circle cx="678.8" cy="1101.63" r="8.45"/>
<circle cx="678.8" cy="1122.14" r="8.45"/>
<circle cx="678.8" cy="1142.65" r="8.45"/>
<circle cx="678.8" cy="1163.16" r="8.45"/>
<circle cx="678.8" cy="1183.67" r="8.45"/>
<circle cx="678.8" cy="1204.18" r="8.45"/>
<circle cx="678.8" cy="1224.69" r="8.45"/>
<circle cx="678.8" cy="1245.2" r="8.45"/>
<circle cx="701.45" cy="1060.61" r="8.45"/>
<circle cx="701.45" cy="1081.12" r="8.45"/>
<circle cx="701.45" cy="1101.63" r="8.45"/>
<circle cx="701.45" cy="1122.14" r="8.45"/>
<circle cx="701.45" cy="1163.16" r="8.45"/>
<circle cx="701.45" cy="1183.67" r="8.45"/>
<circle cx="701.45" cy="1204.18" r="8.45"/>
<circle cx="701.45" cy="1224.69" r="8.45"/>
<circle cx="701.45" cy="1245.2" r="8.45"/>
<circle cx="724.1" cy="1040.1" r="8.45"/>
<circle cx="724.1" cy="1060.61" r="8.45"/>
<circle cx="724.1" cy="1081.12" r="8.45"/>
<circle cx="724.1" cy="1101.63" r="8.45"/>
<circle cx="724.1" cy="1142.65" r="8.45"/>
<circle cx="724.1" cy="1163.16" r="8.45"/>
<circle cx="724.1" cy="1204.18" r="8.45"/>
<circle cx="724.1" cy="1224.69" r="8.45"/>
<circle cx="724.1" cy="1245.2" r="8.45"/>
<circle cx="746.75" cy="1081.12" r="8.45"/>
<circle cx="746.75" cy="1101.63" r="8.45"/>
<circle cx="746.75" cy="1122.14" r="8.45"/>
<circle cx="746.75" cy="1142.65" r="8.45"/>
<circle cx="746.75" cy="1163.16" r="8.45"/>
<circle cx="746.75" cy="1183.67" r="8.45"/>
<circle cx="746.75" cy="1204.18" r="8.45"/>
<circle cx="746.75" cy="1224.69" r="8.45"/>
<circle cx="746.75" cy="1245.2" r="8.45"/>
<circle cx="769.4" cy="1060.61" r="8.45"/>
<circle cx="769.4" cy="1101.63" r="8.45"/>
<circle cx="769.4" cy="1122.14" r="8.45"/>
<circle cx="769.4" cy="1142.65" r="8.45"/>
<circle cx="769.4" cy="1163.16" r="8.45"/>
<circle cx="769.4" cy="1183.67" r="8.45"/>
<circle cx="769.4" cy="1204.18" r="8.45"/>
<circle cx="769.4" cy="1224.69" r="8.45"/>
<circle cx="769.4" cy="1245.2" r="8.45"/>
<circle cx="792.05" cy="1040.1" r="8.45"/>
<circle cx="792.05" cy="1081.12" r="8.45"/>
<circle cx="792.05" cy="1101.63" r="8.45"/>
<circle cx="792.05" cy="1122.14" r="8.45"/>
<circle cx="792.05" cy="1142.65" r="8.45"/>
<circle cx="792.05" cy="1163.16" r="8.45"/>
<circle cx="792.05" cy="1204.18" r="8.45"/>
<circle cx="792.05" cy="1224.69" r="8.45"/>
<circle cx="792.05" cy="1245.2" r="8.45"/>
<circle cx="814.7" cy="1060.61" r="8.45"/>
<circle cx="814.7" cy="1081.12" r="8.45"/>
<circle cx="814.7" cy="1101.63" r="8.45"/>
<circle cx="814.7" cy="1122.14" r="8.45"/>
<circle cx="814.7" cy="1142.65" r="8.45"/>
<circle cx="814.7" cy="1163.16" r="8.45"/>
<circle cx="814.7" cy="1183.67" r="8.45"/>
<circle cx="814.7" cy="1204.18" r="8.45"/>
<circle cx="814.7" cy="1224.69" r="8.45"/>
<circle cx="837.35" cy="1040.1" r="8.45"/>
<circle cx="837.35" cy="1081.12" r="8.45"/>
<circle cx="837.35" cy="1101.63" r="8.45"/>
<circle cx="837.35" cy="1122.14" r="8.45"/>
<circle cx="837.35" cy="1142.65" r="8.45"/>
<circle cx="837.35" cy="1183.67" r="8.45"/>
<circle cx="837.35" cy="1204.18" r="8.45"/>
<circle cx="837.35" cy="1224.69" r="8.45"/>
<circle cx="837.35" cy="1245.2" r="8.45"/>
<circle cx="860" cy="1060.61" r="8.45"/>
<circle cx="860" cy="1081.12" r="8.45"/>
<circle cx="860" cy="1122.14" r="8.45"/>
<circle cx="860" cy="1142.65" r="8.45"/>
<circle cx="860" cy="1163.16" r="8.45"/>
<circle cx="860" cy="1183.67" r="8.45"/>
<circle cx="860" cy="1204.18" r="8.45"/>
<circle cx="860" cy="1224.69" r="8.45"/>
<circle cx="860" cy="1245.2" r="8.45"/>
<circle cx="882.65" cy="1060.61" r="8.45"/>
<circle cx="882.65" cy="1081.12" r="8.45"/>
<circle cx="882.65" cy="1101.63" r="8.45"/>
<circle cx="882.65" cy="1122.14" r="8.45"/>
<circle cx="882.65" cy="1142.65" r="8.45"/>
<circle cx="882.65" cy="1183.67" r="8.45"/>
<circle cx="882.65" cy="1204.18" r="8.45"/>
<circle cx="882.65" cy="1224.69" r="8.45"/>
<circle cx="882.65" cy="1245.2" r="8.45"/>
<circle cx="905.3" cy="1040.1" r="8.45"/>
<circle cx="905.3" cy="1081.12" r="8.45"/>
<circle cx="905.3" cy="1101.63" r="8.45"/>
<circle cx="905.3" cy="1142.65" r="8.45"/>
<circle cx="905.3" cy="1163.16" r="8.45"/>
<circle cx="905.3" cy="1183.67" r="8.45"/>
<circle cx="905.3" cy="1204.18" r="8.45"/>
<circle cx="905.3" cy="1224.69" r="8.45"/>
<circle cx="905.3" cy="1245.2" r="8.45"/>
<circle cx="950.6" cy="1060.61" r="8.45"/>
<circle cx="950.6" cy="1081.12" r="8.45"/>
<circle cx="950.6" cy="1101.63" r="8.45"/>
<circle cx="950.6" cy="1142.65" r="8.45"/>
<circle cx="950.6" cy="1163.16" r="8.45"/>
<circle cx="950.6" cy="1183.67" r="8.45"/>
<circle cx="950.6" cy="1204.18" r="8.45"/>
<circle cx="950.6" cy="1224.69" r="8.45"/>
<circle cx="950.6" cy="1245.2" r="8.45"/>
</g>
<g fill="#000" stroke="#000" stroke-width="4.6">
<line x1="678.8" x2="678.8" y1="1060.61" y2="1081.12"/>
<line x1="701.45" x2="701.45" y1="1040.1" y2="1142.65"/>
<line x1="724.1" x2="724.1" y1="1122.14" y2="1183.67"/>
<line x1="746.75" x2="746.75" y1="1040.1" y2="1060.61"/>
<line x1="769.4" x2="769.4" y1="1040.1" y2="1081.12"/>
<line x1="792.05" x2="792.05" y1="1060.61" y2="1183.67"/>
<line x1="814.7" x2="814.7" y1="1040.1" y2="1245.2"/>
<line x1="837.35" x2="837.35" y1="1060.61" y2="1163.16"/>
<line x1="860" x2="860" y1="1040.1" y2="1101.63"/>
<line x1="882.65" x2="882.65" y1="1040.1" y2="1163.16"/>
<line x1="905.3" x2="905.3" y1="1060.61" y2="1122.14"/>
<line x1="927.95" x2="927.95" y1="1040.1" y2="1245.2"/>
<line x1="950.6" x2="950.6" y1="1040.1" y2="1122.14"/>
</g><g fill="#000">
<circle cx="429.65" cy="1040.1" r="9.05"/>
<circle cx="452.3" cy="1060.61" r="9.05"/>
<circle cx="474.95" cy="1081.12" r="9.05"/>
<circle cx="497.6" cy="1101.63" r="9.05"/>
<circle cx="520.25" cy="1142.65" r="9.05"/>
<circle cx="542.9" cy="1122.14" r="9.05"/>
<circle cx="565.55" cy="1163.16" r="9.05"/>
<circle cx="588.2" cy="1204.18" r="9.05"/>
<circle cx="610.85" cy="1183.67" r="9.05"/>
<circle cx="633.5" cy="1224.69" r="9.05"/>
<circle cx="656.15" cy="1245.2" r="9.05"/>
<circle cx="678.8" cy="1060.61" r="9.05"/>
<circle cx="678.8" cy="1081.12" r="9.05"/>
<circle cx="701.45" cy="1040.1" r="9.05"/>
<circle cx="701.45" cy="1142.65" r="9.05"/>
<circle cx="724.1" cy="1122.14" r="9.05"/>
<circle cx="724.1" cy="1183.67" r="9.05"/>
<circle cx="746.75" cy="1040.1" r="9.05"/>
<circle cx="746.75" cy="1060.61" r="9.05"/>
<circle cx="769.4" cy="1040.1" r="9.05"/>
<circle cx="769.4" cy="1081.12" r="9.05"/>
<circle cx="792.05" cy="1060.61" r="9.05"/>
<circle cx="792.05" cy="1183.67" r="9.05"/>
<circle cx="814.7" cy="1040.1" r="9.05"/>
<circle cx="814.7" cy="1245.2" r="9.05"/>
<circle cx="837.35" cy="1060.61" r="9.05"/>
<circle cx="837.35" cy="1163.16" r="9.05"/>
<circle cx="860" cy="1040.1" r="9.05"/>
<circle cx="860" cy="1101.63" r="9.05"/>
<circle cx="882.65" cy="1040.1" r="9.05"/>
<circle cx="882.65" cy="1163.16" r="9.05"/>
<circle cx="905.3" cy="1060.61" r="9.05"/>
<circle cx="905.3" cy="1122.14" r="9.05"/>
<circle cx="927.95" cy="1040.1" r="9.05"/>
<circle cx="927.95" cy="1060.61" r="9.05"/>
<circle cx="927.95" cy="1081.12" r="9.05"/>
<circle cx="927.95" cy="1101.63" r="9.05"/>
<circle cx="927.95" cy="1122.14" r="9.05"/>
<circle cx="927.95" cy="1142.65" r="9.05"/>
<circle cx="927.95" cy="1163.16" r="9.05"/>
<circle cx="927.95" cy="1183.67" r="9.05"/>
<circle cx="927.95" cy="1204.18" r="9.05"/>
<circle cx="927.95" cy="1224.69" r="9.05"/>
<circle cx="927.95" cy="1245.2" r="9.05"/>
<circle cx="950.6" cy="1040.1" r="9.05"/>
<circle cx="950.6" cy="1122.14" r="9.05"/>
</g>
<text transform="translate(96.31 1311.9) rotate(-90)" font-size="24.6" text-anchor="middle" fill="#4d4d4d" stroke="#4d4d4d">1e+06</text>
<text transform="translate(146.21 1311.9) rotate(-90)" font-size="24.6" text-anchor="middle" fill="#4d4d4d" stroke="#4d4d4d">5e+05</text>
<text transform="translate(195.61 1311.9) rotate(-90)" font-size="24.6" text-anchor="middle" fill="#4d4d4d" stroke="#4d4d4d">0e+00</text>
<text x="113.4" y="1377.6" font-size="28" text-anchor="middle" stroke="#000">Set size</text>
<text x="679" y="1377.6" font-size="28" text-anchor="middle" stroke="#000">all het SNVs</text>
</g>
<g id="panel-d">
<text transform="translate(1047.3 736.6) scale(0.88 1)" font-size="55" font-weight="bold">d</text>
<rect x="1501" y="730" width="11.8" height="215.6" fill="#000080"/>
<rect x="1519.9" y="739.89" width="11.8" height="205.71" fill="#000080"/>
<rect x="1538.8" y="760.67" width="11.8" height="184.93" fill="#000080"/>
<rect x="1557.7" y="770.23" width="11.8" height="175.37" fill="#000080"/>
<rect x="1576.6" y="786.05" width="11.8" height="159.55" fill="#000080"/>
<rect x="1595.5" y="818.03" width="11.8" height="127.57" fill="#000080"/>
<rect x="1614.4" y="830.23" width="11.8" height="115.37" fill="#000080"/>
<rect x="1633.3" y="867.16" width="11.8" height="78.44" fill="#000080"/>
<rect x="1652.2" y="892.88" width="11.8" height="52.72" fill="#000080"/>
<rect x="1671.1" y="909.36" width="11.8" height="36.24" fill="#000080"/>
<rect x="1690" y="914.97" width="11.8" height="30.63" fill="#000080"/>
<rect x="1708.9" y="915.63" width="11.8" height="29.97" fill="#000080"/>
<rect x="1727.8" y="917.28" width="11.8" height="28.32" fill="#000080"/>
<rect x="1746.7" y="918.93" width="11.8" height="26.67" fill="#000080"/>
<rect x="1765.6" y="919.91" width="11.8" height="25.69" fill="#000080"/>
<rect x="1784.5" y="920.57" width="11.8" height="25.03" fill="#000080"/>
<rect x="1803.4" y="920.9" width="11.8" height="24.7" fill="#000080"/>
<rect x="1822.3" y="920.9" width="11.8" height="24.7" fill="#000080"/>
<rect x="1841.2" y="921.56" width="11.8" height="24.04" fill="#000080"/>
<rect x="1860.1" y="921.56" width="11.8" height="24.04" fill="#000080"/>
<rect x="1879" y="923.87" width="11.8" height="21.73" fill="#000080"/>
<rect x="1897.9" y="927.17" width="11.8" height="18.43" fill="#000080"/>
<rect x="1916.8" y="927.17" width="11.8" height="18.43" fill="#000080"/>
<rect x="1935.7" y="928.16" width="11.8" height="17.44" fill="#000080"/>
<rect x="1954.6" y="928.82" width="11.8" height="16.78" fill="#000080"/>
<rect x="1973.5" y="928.82" width="11.8" height="16.78" fill="#000080"/>
<rect x="1992.4" y="929.15" width="11.8" height="16.45" fill="#000080"/>
<rect x="2011.3" y="929.81" width="11.8" height="15.79" fill="#000080"/>
<rect x="2030.2" y="930.14" width="11.8" height="15.46" fill="#000080"/>
<rect x="2049.1" y="930.79" width="11.8" height="14.81" fill="#000080"/>
<text x="1475.3" y="955.31" font-size="24.6" text-anchor="end" fill="#4d4d4d" stroke="#4d4d4d">0</text>
<text x="1475.3" y="900.41" font-size="24.6" text-anchor="end" fill="#4d4d4d" stroke="#4d4d4d">100</text>
<text x="1475.3" y="845.51" font-size="24.6" text-anchor="end" fill="#4d4d4d" stroke="#4d4d4d">200</text>
<text x="1475.3" y="790.61" font-size="24.6" text-anchor="end" fill="#4d4d4d" stroke="#4d4d4d">300</text>
<text x="1475.3" y="735.71" font-size="24.6" text-anchor="end" fill="#4d4d4d" stroke="#4d4d4d">400</text>
<text transform="translate(1350.5 837) rotate(-90)" font-size="28" text-anchor="middle" stroke="#000">Intersection size</text>
<rect x="1495.2" y="1011.3" width="570.8" height="44.6" fill="#f2f2f2"/>
<rect x="1143.7" y="1011.3" width="142.9" height="44.6" fill="#f2f2f2"/>
<rect x="1495.2" y="1080.1" width="570.8" height="22.6" fill="#f2f2f2"/>
<rect x="1143.7" y="1080.1" width="142.9" height="22.6" fill="#f2f2f2"/>
<rect x="1495.2" y="1126.3" width="570.8" height="22.4" fill="#f2f2f2"/>
<rect x="1143.7" y="1126.3" width="142.9" height="22.4" fill="#f2f2f2"/>
<rect x="1495.2" y="1172.4" width="570.8" height="22.6" fill="#f2f2f2"/>
<rect x="1143.7" y="1172.4" width="142.9" height="22.6" fill="#f2f2f2"/>
<rect x="1495.2" y="1218.6" width="570.8" height="23" fill="#f2f2f2"/>
<rect x="1143.7" y="1218.6" width="142.9" height="23" fill="#f2f2f2"/>
<rect x="1150.3" y="1018.65" width="129.5" height="14.3" fill="#595959"/>
<rect x="1152.3" y="1041.85" width="127.5" height="14.3" fill="#595959"/>
<rect x="1162.6" y="1065.05" width="117.2" height="14.3" fill="#595959"/>
<rect x="1163.5" y="1088.25" width="116.3" height="14.3" fill="#595959"/>
<rect x="1176.3" y="1111.45" width="103.5" height="14.3" fill="#595959"/>
<rect x="1192.1" y="1134.65" width="87.7" height="14.3" fill="#595959"/>
<rect x="1192.3" y="1157.85" width="87.5" height="14.3" fill="#595959"/>
<rect x="1210.8" y="1181.05" width="69" height="14.3" fill="#595959"/>
<rect x="1241.1" y="1204.25" width="38.7" height="14.3" fill="#595959"/>
<rect x="1257.4" y="1227.45" width="22.4" height="14.3" fill="#595959"/>
<text x="1475.5" y="1034.21" font-size="24.6" text-anchor="end" fill="#4d4d4d" stroke="#4d4d4d">HCT116</text>
<text x="1475.5" y="1057.41" font-size="24.6" text-anchor="end" fill="#4d4d4d" stroke="#4d4d4d">OCI−LY7</text>
<text x="1475.5" y="1080.61" font-size="24.6" text-anchor="end" fill="#4d4d4d" stroke="#4d4d4d">GM12878</text>
<text x="1475.5" y="1103.81" font-size="24.6" text-anchor="end" fill="#4d4d4d" stroke="#4d4d4d">HMEC</text>
<text x="1475.5" y="1127.01" font-size="24.6" text-anchor="end" fill="#4d4d4d" stroke="#4d4d4d">IMR−90</text>
<text x="1475.5" y="1150.21" font-size="24.6" text-anchor="end" fill="#4d4d4d" stroke="#4d4d4d">MCF10A</text>
<text x="1475.5" y="1173.41" font-size="24.6" text-anchor="end" fill="#4d4d4d" stroke="#4d4d4d">HepG2</text>
<text x="1475.5" y="1196.61" font-size="24.6" text-anchor="end" fill="#4d4d4d" stroke="#4d4d4d">A673</text>
<text x="1475.5" y="1219.81" font-size="24.6" text-anchor="end" fill="#4d4d4d" stroke="#4d4d4d">MCF−7</text>
<text x="1475.5" y="1243.01" font-size="24.6" text-anchor="end" fill="#4d4d4d" stroke="#4d4d4d">HUVEC</text>
<g fill="#dbdbdb" stroke="#b9b9b9" stroke-width="0.9">
<circle cx="1506.9" cy="1025.8" r="8.45"/>
<circle cx="1506.9" cy="1072.2" r="8.45"/>
<circle cx="1506.9" cy="1095.4" r="8.45"/>
<circle cx="1506.9" cy="1118.6" r="8.45"/>
<circle cx="1506.9" cy="1141.8" r="8.45"/>
<circle cx="1506.9" cy="1165" r="8.45"/>
<circle cx="1506.9" cy="1188.2" r="8.45"/>
<circle cx="1506.9" cy="1211.4" r="8.45"/>
<circle cx="1506.9" cy="1234.6" r="8.45"/>
<circle cx="1525.8" cy="1049" r="8.45"/>
<circle cx="1525.8" cy="1072.2" r="8.45"/>
<circle cx="1525.8" cy="1095.4" r="8.45"/>
<circle cx="1525.8" cy="1118.6" r="8.45"/>
<circle cx="1525.8" cy="1141.8" r="8.45"/>
<circle cx="1525.8" cy="1165" r="8.45"/>
<circle cx="1525.8" cy="1188.2" r="8.45"/>
<circle cx="1525.8" cy="1211.4" r="8.45"/>
<circle cx="1525.8" cy="1234.6" r="8.45"/>
<circle cx="1544.7" cy="1025.8" r="8.45"/>
<circle cx="1544.7" cy="1049" r="8.45"/>
<circle cx="1544.7" cy="1095.4" r="8.45"/>
<circle cx="1544.7" cy="1118.6" r="8.45"/>
<circle cx="1544.7" cy="1141.8" r="8.45"/>
<circle cx="1544.7" cy="1165" r="8.45"/>
<circle cx="1544.7" cy="1188.2" r="8.45"/>
<circle cx="1544.7" cy="1211.4" r="8.45"/>
<circle cx="1544.7" cy="1234.6" r="8.45"/>
<circle cx="1563.6" cy="1025.8" r="8.45"/>
<circle cx="1563.6" cy="1049" r="8.45"/>
<circle cx="1563.6" cy="1072.2" r="8.45"/>
<circle cx="1563.6" cy="1095.4" r="8.45"/>
<circle cx="1563.6" cy="1141.8" r="8.45"/>
<circle cx="1563.6" cy="1165" r="8.45"/>
<circle cx="1563.6" cy="1188.2" r="8.45"/>
<circle cx="1563.6" cy="1211.4" r="8.45"/>
<circle cx="1563.6" cy="1234.6" r="8.45"/>
<circle cx="1582.5" cy="1025.8" r="8.45"/>
<circle cx="1582.5" cy="1049" r="8.45"/>
<circle cx="1582.5" cy="1072.2" r="8.45"/>
<circle cx="1582.5" cy="1118.6" r="8.45"/>
<circle cx="1582.5" cy="1141.8" r="8.45"/>
<circle cx="1582.5" cy="1165" r="8.45"/>
<circle cx="1582.5" cy="1188.2" r="8.45"/>
<circle cx="1582.5" cy="1211.4" r="8.45"/>
<circle cx="1582.5" cy="1234.6" r="8.45"/>
<circle cx="1601.4" cy="1025.8" r="8.45"/>
<circle cx="1601.4" cy="1049" r="8.45"/>
<circle cx="1601.4" cy="1072.2" r="8.45"/>
<circle cx="1601.4" cy="1095.4" r="8.45"/>
<circle cx="1601.4" cy="1118.6" r="8.45"/>
<circle cx="1601.4" cy="1141.8" r="8.45"/>
<circle cx="1601.4" cy="1188.2" r="8.45"/>
<circle cx="1601.4" cy="1211.4" r="8.45"/>
<circle cx="1601.4" cy="1234.6" r="8.45"/>
<circle cx="1620.3" cy="1025.8" r="8.45"/>
<circle cx="1620.3" cy="1049" r="8.45"/>
<circle cx="1620.3" cy="1072.2" r="8.45"/>
<circle cx="1620.3" cy="1095.4" r="8.45"/>
<circle cx="1620.3" cy="1118.6" r="8.45"/>
<circle cx="1620.3" cy="1165" r="8.45"/>
<circle cx="1620.3" cy="1188.2" r="8.45"/>
<circle cx="1620.3" cy="1211.4" r="8.45"/>
<circle cx="1620.3" cy="1234.6" r="8.45"/>
<circle cx="1639.2" cy="1025.8" r="8.45"/>
<circle cx="1639.2" cy="1049" r="8.45"/>
<circle cx="1639.2" cy="1072.2" r="8.45"/>
<circle cx="1639.2" cy="1095.4" r="8.45"/>
<circle cx="1639.2" cy="1118.6" r="8.45"/>
<circle cx="1639.2" cy="1141.8" r="8.45"/>
<circle cx="1639.2" cy="1165" r="8.45"/>
<circle cx="1639.2" cy="1211.4" r="8.45"/>
<circle cx="1639.2" cy="1234.6" r="8.45"/>
<circle cx="1658.1" cy="1025.8" r="8.45"/>
<circle cx="1658.1" cy="1049" r="8.45"/>
<circle cx="1658.1" cy="1072.2" r="8.45"/>
<circle cx="1658.1" cy="1095.4" r="8.45"/>
<circle cx="1658.1" cy="1118.6" r="8.45"/>
<circle cx="1658.1" cy="1141.8" r="8.45"/>
<circle cx="1658.1" cy="1165" r="8.45"/>
<circle cx="1658.1" cy="1188.2" r="8.45"/>
<circle cx="1658.1" cy="1234.6" r="8.45"/>
<circle cx="1677" cy="1025.8" r="8.45"/>
<circle cx="1677" cy="1095.4" r="8.45"/>
<circle cx="1677" cy="1118.6" r="8.45"/>
<circle cx="1677" cy="1141.8" r="8.45"/>
<circle cx="1677" cy="1165" r="8.45"/>
<circle cx="1677" cy="1188.2" r="8.45"/>
<circle cx="1677" cy="1211.4" r="8.45"/>
<circle cx="1677" cy="1234.6" r="8.45"/>
<circle cx="1695.9" cy="1049" r="8.45"/>
<circle cx="1695.9" cy="1072.2" r="8.45"/>
<circle cx="1695.9" cy="1118.6" r="8.45"/>
<circle cx="1695.9" cy="1141.8" r="8.45"/>
<circle cx="1695.9" cy="1165" r="8.45"/>
<circle cx="1695.9" cy="1188.2" r="8.45"/>
<circle cx="1695.9" cy="1211.4" r="8.45"/>
<circle cx="1695.9" cy="1234.6" r="8.45"/>
<circle cx="1714.8" cy="1072.2" r="8.45"/>
<circle cx="1714.8" cy="1095.4" r="8.45"/>
<circle cx="1714.8" cy="1118.6" r="8.45"/>
<circle cx="1714.8" cy="1141.8" r="8.45"/>
<circle cx="1714.8" cy="1165" r="8.45"/>
<circle cx="1714.8" cy="1188.2" r="8.45"/>
<circle cx="1714.8" cy="1211.4" r="8.45"/>
<circle cx="1714.8" cy="1234.6" r="8.45"/>
<circle cx="1733.7" cy="1025.8" r="8.45"/>
<circle cx="1733.7" cy="1049" r="8.45"/>
<circle cx="1733.7" cy="1118.6" r="8.45"/>
<circle cx="1733.7" cy="1141.8" r="8.45"/>
<circle cx="1733.7" cy="1165" r="8.45"/>
<circle cx="1733.7" cy="1188.2" r="8.45"/>
<circle cx="1733.7" cy="1211.4" r="8.45"/>
<circle cx="1733.7" cy="1234.6" r="8.45"/>
<circle cx="1752.6" cy="1025.8" r="8.45"/>
<circle cx="1752.6" cy="1049" r="8.45"/>
<circle cx="1752.6" cy="1072.2" r="8.45"/>
<circle cx="1752.6" cy="1141.8" r="8.45"/>
<circle cx="1752.6" cy="1165" r="8.45"/>
<circle cx="1752.6" cy="1188.2" r="8.45"/>
<circle cx="1752.6" cy="1211.4" r="8.45"/>
<circle cx="1752.6" cy="1234.6" r="8.45"/>
<circle cx="1771.5" cy="1025.8" r="8.45"/>
<circle cx="1771.5" cy="1072.2" r="8.45"/>
<circle cx="1771.5" cy="1118.6" r="8.45"/>
<circle cx="1771.5" cy="1141.8" r="8.45"/>
<circle cx="1771.5" cy="1165" r="8.45"/>
<circle cx="1771.5" cy="1188.2" r="8.45"/>
<circle cx="1771.5" cy="1211.4" r="8.45"/>
<circle cx="1771.5" cy="1234.6" r="8.45"/>
<circle cx="1790.4" cy="1049" r="8.45"/>
<circle cx="1790.4" cy="1072.2" r="8.45"/>
<circle cx="1790.4" cy="1095.4" r="8.45"/>
<circle cx="1790.4" cy="1118.6" r="8.45"/>
<circle cx="1790.4" cy="1141.8" r="8.45"/>
<circle cx="1790.4" cy="1188.2" r="8.45"/>
<circle cx="1790.4" cy="1211.4" r="8.45"/>
<circle cx="1790.4" cy="1234.6" r="8.45"/>
<circle cx="1809.3" cy="1025.8" r="8.45"/>
<circle cx="1809.3" cy="1049" r="8.45"/>
<circle cx="1809.3" cy="1072.2" r="8.45"/>
<circle cx="1809.3" cy="1118.6" r="8.45"/>
<circle cx="1809.3" cy="1165" r="8.45"/>
<circle cx="1809.3" cy="1188.2" r="8.45"/>
<circle cx="1809.3" cy="1211.4" r="8.45"/>
<circle cx="1809.3" cy="1234.6" r="8.45"/>
<circle cx="1828.2" cy="1049" r="8.45"/>
<circle cx="1828.2" cy="1072.2" r="8.45"/>
<circle cx="1828.2" cy="1095.4" r="8.45"/>
<circle cx="1828.2" cy="1141.8" r="8.45"/>
<circle cx="1828.2" cy="1165" r="8.45"/>
<circle cx="1828.2" cy="1188.2" r="8.45"/>
<circle cx="1828.2" cy="1211.4" r="8.45"/>
<circle cx="1828.2" cy="1234.6" r="8.45"/>
<circle cx="1847.1" cy="1049" r="8.45"/>
<circle cx="1847.1" cy="1072.2" r="8.45"/>
<circle cx="1847.1" cy="1095.4" r="8.45"/>
<circle cx="1847.1" cy="1118.6" r="8.45"/>
<circle cx="1847.1" cy="1165" r="8.45"/>
<circle cx="1847.1" cy="1188.2" r="8.45"/>
<circle cx="1847.1" cy="1211.4" r="8.45"/>
<circle cx="1847.1" cy="1234.6" r="8.45"/>
<circle cx="1866" cy="1049" r="8.45"/>
<circle cx="1866" cy="1095.4" r="8.45"/>
<circle cx="1866" cy="1118.6" r="8.45"/>
<circle cx="1866" cy="1141.8" r="8.45"/>
<circle cx="1866" cy="1165" r="8.45"/>
<circle cx="1866" cy="1188.2" r="8.45"/>
<circle cx="1866" cy="1211.4" r="8.45"/>
<circle cx="1866" cy="1234.6" r="8.45"/>
<circle cx="1884.9" cy="1025.8" r="8.45"/>
<circle cx="1884.9" cy="1072.2" r="8.45"/>
<circle cx="1884.9" cy="1095.4" r="8.45"/>
<circle cx="1884.9" cy="1118.6" r="8.45"/>
<circle cx="1884.9" cy="1141.8" r="8.45"/>
<circle cx="1884.9" cy="1188.2" r="8.45"/>
<circle cx="1884.9" cy="1211.4" r="8.45"/>
<circle cx="1884.9" cy="1234.6" r="8.45"/>
<circle cx="1903.8" cy="1025.8" r="8.45"/>
<circle cx="1903.8" cy="1072.2" r="8.45"/>
<circle cx="1903.8" cy="1095.4" r="8.45"/>
<circle cx="1903.8" cy="1141.8" r="8.45"/>
<circle cx="1903.8" cy="1165" r="8.45"/>
<circle cx="1903.8" cy="1188.2" r="8.45"/>
<circle cx="1903.8" cy="1211.4" r="8.45"/>
<circle cx="1903.8" cy="1234.6" r="8.45"/>
<circle cx="1922.7" cy="1025.8" r="8.45"/>
<circle cx="1922.7" cy="1049" r="8.45"/>
<circle cx="1922.7" cy="1072.2" r="8.45"/>
<circle cx="1922.7" cy="1095.4" r="8.45"/>
<circle cx="1922.7" cy="1118.6" r="8.45"/>
<circle cx="1922.7" cy="1141.8" r="8.45"/>
<circle cx="1922.7" cy="1165" r="8.45"/>
<circle cx="1922.7" cy="1188.2" r="8.45"/>
<circle cx="1922.7" cy="1211.4" r="8.45"/>
<circle cx="1941.6" cy="1025.8" r="8.45"/>
<circle cx="1941.6" cy="1049" r="8.45"/>
<circle cx="1941.6" cy="1095.4" r="8.45"/>
<circle cx="1941.6" cy="1118.6" r="8.45"/>
<circle cx="1941.6" cy="1141.8" r="8.45"/>
<circle cx="1941.6" cy="1188.2" r="8.45"/>
<circle cx="1941.6" cy="1211.4" r="8.45"/>
<circle cx="1941.6" cy="1234.6" r="8.45"/>
<circle cx="1960.5" cy="1025.8" r="8.45"/>
<circle cx="1960.5" cy="1049" r="8.45"/>
<circle cx="1960.5" cy="1072.2" r="8.45"/>
<circle cx="1960.5" cy="1095.4" r="8.45"/>
<circle cx="1960.5" cy="1165" r="8.45"/>
<circle cx="1960.5" cy="1188.2" r="8.45"/>
<circle cx="1960.5" cy="1211.4" r="8.45"/>
<circle cx="1960.5" cy="1234.6" r="8.45"/>
<circle cx="1979.4" cy="1025.8" r="8.45"/>
<circle cx="1979.4" cy="1072.2" r="8.45"/>
<circle cx="1979.4" cy="1095.4" r="8.45"/>
<circle cx="1979.4" cy="1118.6" r="8.45"/>
<circle cx="1979.4" cy="1165" r="8.45"/>
<circle cx="1979.4" cy="1188.2" r="8.45"/>
<circle cx="1979.4" cy="1211.4" r="8.45"/>
<circle cx="1979.4" cy="1234.6" r="8.45"/>
<circle cx="1998.3" cy="1025.8" r="8.45"/>
<circle cx="1998.3" cy="1049" r="8.45"/>
<circle cx="1998.3" cy="1095.4" r="8.45"/>
<circle cx="1998.3" cy="1118.6" r="8.45"/>
<circle cx="1998.3" cy="1141.8" r="8.45"/>
<circle cx="1998.3" cy="1165" r="8.45"/>
<circle cx="1998.3" cy="1211.4" r="8.45"/>
<circle cx="1998.3" cy="1234.6" r="8.45"/>
<circle cx="2017.2" cy="1025.8" r="8.45"/>
<circle cx="2017.2" cy="1049" r="8.45"/>
<circle cx="2017.2" cy="1072.2" r="8.45"/>
<circle cx="2017.2" cy="1118.6" r="8.45"/>
<circle cx="2017.2" cy="1141.8" r="8.45"/>
<circle cx="2017.2" cy="1188.2" r="8.45"/>
<circle cx="2017.2" cy="1211.4" r="8.45"/>
<circle cx="2017.2" cy="1234.6" r="8.45"/>
<circle cx="2036.1" cy="1025.8" r="8.45"/>
<circle cx="2036.1" cy="1049" r="8.45"/>
<circle cx="2036.1" cy="1095.4" r="8.45"/>
<circle cx="2036.1" cy="1141.8" r="8.45"/>
<circle cx="2036.1" cy="1165" r="8.45"/>
<circle cx="2036.1" cy="1188.2" r="8.45"/>
<circle cx="2036.1" cy="1211.4" r="8.45"/>
<circle cx="2036.1" cy="1234.6" r="8.45"/>
<circle cx="2055" cy="1025.8" r="8.45"/>
<circle cx="2055" cy="1049" r="8.45"/>
<circle cx="2055" cy="1095.4" r="8.45"/>
<circle cx="2055" cy="1118.6" r="8.45"/>
<circle cx="2055" cy="1165" r="8.45"/>
<circle cx="2055" cy="1188.2" r="8.45"/>
<circle cx="2055" cy="1211.4" r="8.45"/>
<circle cx="2055" cy="1234.6" r="8.45"/>
</g>
<g fill="#000" stroke="#000" stroke-width="4.6">
<line x1="1677" x2="1677" y1="1049" y2="1072.2"/>
<line x1="1695.9" x2="1695.9" y1="1025.8" y2="1095.4"/>
<line x1="1714.8" x2="1714.8" y1="1025.8" y2="1049"/>
<line x1="1733.7" x2="1733.7" y1="1072.2" y2="1095.4"/>
<line x1="1752.6" x2="1752.6" y1="1095.4" y2="1118.6"/>
<line x1="1771.5" x2="1771.5" y1="1049" y2="1095.4"/>
<line x1="1790.4" x2="1790.4" y1="1025.8" y2="1165"/>
<line x1="1809.3" x2="1809.3" y1="1095.4" y2="1141.8"/>
<line x1="1828.2" x2="1828.2" y1="1025.8" y2="1118.6"/>
<line x1="1847.1" x2="1847.1" y1="1025.8" y2="1141.8"/>
<line x1="1866" x2="1866" y1="1025.8" y2="1072.2"/>
<line x1="1884.9" x2="1884.9" y1="1049" y2="1165"/>
<line x1="1903.8" x2="1903.8" y1="1049" y2="1118.6"/>
<line x1="1941.6" x2="1941.6" y1="1072.2" y2="1165"/>
<line x1="1960.5" x2="1960.5" y1="1118.6" y2="1141.8"/>
<line x1="1979.4" x2="1979.4" y1="1049" y2="1141.8"/>
<line x1="1998.3" x2="1998.3" y1="1072.2" y2="1188.2"/>
<line x1="2017.2" x2="2017.2" y1="1095.4" y2="1165"/>
<line x1="2036.1" x2="2036.1" y1="1072.2" y2="1118.6"/>
<line x1="2055" x2="2055" y1="1072.2" y2="1141.8"/>
</g><g fill="#000">
<circle cx="1506.9" cy="1049" r="9.05"/>
<circle cx="1525.8" cy="1025.8" r="9.05"/>
<circle cx="1544.7" cy="1072.2" r="9.05"/>
<circle cx="1563.6" cy="1118.6" r="9.05"/>
<circle cx="1582.5" cy="1095.4" r="9.05"/>
<circle cx="1601.4" cy="1165" r="9.05"/>
<circle cx="1620.3" cy="1141.8" r="9.05"/>
<circle cx="1639.2" cy="1188.2" r="9.05"/>
<circle cx="1658.1" cy="1211.4" r="9.05"/>
<circle cx="1677" cy="1049" r="9.05"/>
<circle cx="1677" cy="1072.2" r="9.05"/>
<circle cx="1695.9" cy="1025.8" r="9.05"/>
<circle cx="1695.9" cy="1095.4" r="9.05"/>
<circle cx="1714.8" cy="1025.8" r="9.05"/>
<circle cx="1714.8" cy="1049" r="9.05"/>
<circle cx="1733.7" cy="1072.2" r="9.05"/>
<circle cx="1733.7" cy="1095.4" r="9.05"/>
<circle cx="1752.6" cy="1095.4" r="9.05"/>
<circle cx="1752.6" cy="1118.6" r="9.05"/>
<circle cx="1771.5" cy="1049" r="9.05"/>
<circle cx="1771.5" cy="1095.4" r="9.05"/>
<circle cx="1790.4" cy="1025.8" r="9.05"/>
<circle cx="1790.4" cy="1165" r="9.05"/>
<circle cx="1809.3" cy="1095.4" r="9.05"/>
<circle cx="1809.3" cy="1141.8" r="9.05"/>
<circle cx="1828.2" cy="1025.8" r="9.05"/>
<circle cx="1828.2" cy="1118.6" r="9.05"/>
<circle cx="1847.1" cy="1025.8" r="9.05"/>
<circle cx="1847.1" cy="1141.8" r="9.05"/>
<circle cx="1866" cy="1025.8" r="9.05"/>
<circle cx="1866" cy="1072.2" r="9.05"/>
<circle cx="1884.9" cy="1049" r="9.05"/>
<circle cx="1884.9" cy="1165" r="9.05"/>
<circle cx="1903.8" cy="1049" r="9.05"/>
<circle cx="1903.8" cy="1118.6" r="9.05"/>
<circle cx="1922.7" cy="1234.6" r="9.05"/>
<circle cx="1941.6" cy="1072.2" r="9.05"/>
<circle cx="1941.6" cy="1165" r="9.05"/>
<circle cx="1960.5" cy="1118.6" r="9.05"/>
<circle cx="1960.5" cy="1141.8" r="9.05"/>
<circle cx="1979.4" cy="1049" r="9.05"/>
<circle cx="1979.4" cy="1141.8" r="9.05"/>
<circle cx="1998.3" cy="1072.2" r="9.05"/>
<circle cx="1998.3" cy="1188.2" r="9.05"/>
<circle cx="2017.2" cy="1095.4" r="9.05"/>
<circle cx="2017.2" cy="1165" r="9.05"/>
<circle cx="2036.1" cy="1072.2" r="9.05"/>
<circle cx="2036.1" cy="1118.6" r="9.05"/>
<circle cx="2055" cy="1072.2" r="9.05"/>
<circle cx="2055" cy="1141.8" r="9.05"/>
</g>
<text transform="translate(1199.11 1295.5) rotate(-90)" font-size="24.6" text-anchor="middle" fill="#4d4d4d" stroke="#4d4d4d">1000</text>
<text transform="translate(1249.01 1295.5) rotate(-90)" font-size="24.6" text-anchor="middle" fill="#4d4d4d" stroke="#4d4d4d">500</text>
<text transform="translate(1297.61 1295.5) rotate(-90)" font-size="24.6" text-anchor="middle" fill="#4d4d4d" stroke="#4d4d4d">0</text>
<text x="1215.6" y="1352.6" font-size="28" text-anchor="middle" stroke="#000">Set size</text>
<text x="1781" y="1353.2" font-size="28" text-anchor="middle" stroke="#000">all classified genes</text>
</g>
<g id="panel-e">
<text transform="translate(3.6 1518) scale(0.87 1)" font-size="62" font-weight="bold">e</text>
<rect x="383.4" y="1471.43" width="11.8" height="215.27" fill="#88609e"/>
<rect x="402.3" y="1552.87" width="11.8" height="133.83" fill="#88609e"/>
<rect x="421.2" y="1553.86" width="11.8" height="132.84" fill="#88609e"/>
<rect x="440.1" y="1566.72" width="11.8" height="119.98" fill="#88609e"/>
<rect x="459" y="1569.02" width="11.8" height="117.68" fill="#88609e"/>
<rect x="477.9" y="1569.02" width="11.8" height="117.68" fill="#88609e"/>
<rect x="496.8" y="1591.77" width="11.8" height="94.93" fill="#88609e"/>
<rect x="515.7" y="1611.89" width="11.8" height="74.81" fill="#88609e"/>
<rect x="534.6" y="1655.41" width="11.8" height="31.29" fill="#88609e"/>
<rect x="553.5" y="1671.89" width="11.8" height="14.81" fill="#88609e"/>
<rect x="572.4" y="1672.55" width="11.8" height="14.15" fill="#88609e"/>
<rect x="591.3" y="1678.49" width="11.8" height="8.21" fill="#88609e"/>
<rect x="610.2" y="1679.15" width="11.8" height="7.55" fill="#88609e"/>
<rect x="629.1" y="1680.14" width="11.8" height="6.56" fill="#88609e"/>
<rect x="648" y="1681.12" width="11.8" height="5.58" fill="#88609e"/>
<rect x="666.9" y="1682.44" width="11.8" height="4.26" fill="#88609e"/>
<rect x="685.8" y="1682.44" width="11.8" height="4.26" fill="#88609e"/>
<rect x="704.7" y="1682.44" width="11.8" height="4.26" fill="#88609e"/>
<rect x="723.6" y="1682.77" width="11.8" height="3.93" fill="#88609e"/>
<rect x="742.5" y="1683.1" width="11.8" height="3.6" fill="#88609e"/>
<rect x="761.4" y="1683.43" width="11.8" height="3.27" fill="#88609e"/>
<rect x="780.3" y="1683.43" width="11.8" height="3.27" fill="#88609e"/>
<rect x="799.2" y="1683.76" width="11.8" height="2.94" fill="#88609e"/>
<rect x="818.1" y="1684.09" width="11.8" height="2.61" fill="#88609e"/>
<rect x="837" y="1684.42" width="11.8" height="2.28" fill="#88609e"/>
<rect x="855.9" y="1684.42" width="11.8" height="2.28" fill="#88609e"/>
<rect x="874.8" y="1684.42" width="11.8" height="2.28" fill="#88609e"/>
<rect x="893.7" y="1684.75" width="11.8" height="1.95" fill="#88609e"/>
<rect x="912.6" y="1684.75" width="11.8" height="1.95" fill="#88609e"/>
<rect x="931.5" y="1684.75" width="11.8" height="1.95" fill="#88609e"/>
<rect x="378.2" y="1686.7" width="570.4" height="1.8" fill="#e6e3ea"/>
<text x="357.3" y="1697.11" font-size="24.6" text-anchor="end" fill="#4d4d4d" stroke="#4d4d4d">0</text>
<text x="357.3" y="1638.51" font-size="24.6" text-anchor="end" fill="#4d4d4d" stroke="#4d4d4d">250</text>
<text x="357.3" y="1579.91" font-size="24.6" text-anchor="end" fill="#4d4d4d" stroke="#4d4d4d">500</text>
<text x="357.3" y="1521.31" font-size="24.6" text-anchor="end" fill="#4d4d4d" stroke="#4d4d4d">750</text>
<text transform="translate(233.2 1578.7) rotate(-90)" font-size="28" text-anchor="middle" stroke="#000">Intersection size</text>
<rect x="377.6" y="1796.43" width="570.9" height="20.9" fill="#f2f2f2"/>
<rect x="25.9" y="1796.43" width="142.9" height="20.9" fill="#f2f2f2"/>
<rect x="377.6" y="1838.81" width="570.9" height="20.9" fill="#f2f2f2"/>
<rect x="25.9" y="1838.81" width="142.9" height="20.9" fill="#f2f2f2"/>
<rect x="377.6" y="1881.19" width="570.9" height="20.9" fill="#f2f2f2"/>
<rect x="25.9" y="1881.19" width="142.9" height="20.9" fill="#f2f2f2"/>
<rect x="377.6" y="1923.57" width="570.9" height="20.9" fill="#f2f2f2"/>
<rect x="25.9" y="1923.57" width="142.9" height="20.9" fill="#f2f2f2"/>
<rect x="377.6" y="1965.95" width="570.9" height="20.9" fill="#f2f2f2"/>
<rect x="25.9" y="1965.95" width="142.9" height="20.9" fill="#f2f2f2"/>
<rect x="32.5" y="1759.35" width="129.9" height="12.9" fill="#595959"/>
<rect x="60.4" y="1780.54" width="102" height="12.9" fill="#595959"/>
<rect x="66.4" y="1801.73" width="96" height="12.9" fill="#595959"/>
<rect x="78.7" y="1822.92" width="83.7" height="12.9" fill="#595959"/>
<rect x="86.8" y="1844.11" width="75.6" height="12.9" fill="#595959"/>
<rect x="87.7" y="1865.3" width="74.7" height="12.9" fill="#595959"/>
<rect x="93.6" y="1886.49" width="68.8" height="12.9" fill="#595959"/>
<rect x="107.5" y="1907.68" width="54.9" height="12.9" fill="#595959"/>
<rect x="138" y="1928.87" width="24.4" height="12.9" fill="#595959"/>
<rect x="151.6" y="1950.06" width="10.8" height="12.9" fill="#595959"/>
<rect x="153.8" y="1971.25" width="8.6" height="12.9" fill="#595959"/>
<text x="357.5" y="1774.21" font-size="24.6" text-anchor="end" fill="#4d4d4d" stroke="#4d4d4d">HCT116</text>
<text x="357.5" y="1795.4" font-size="24.6" text-anchor="end" fill="#4d4d4d" stroke="#4d4d4d">MCF10A</text>
<text x="357.5" y="1816.59" font-size="24.6" text-anchor="end" fill="#4d4d4d" stroke="#4d4d4d">OCI−LY7</text>
<text x="357.5" y="1837.78" font-size="24.6" text-anchor="end" fill="#4d4d4d" stroke="#4d4d4d">GM12878</text>
<text x="357.5" y="1858.97" font-size="24.6" text-anchor="end" fill="#4d4d4d" stroke="#4d4d4d">A673</text>
<text x="357.5" y="1880.16" font-size="24.6" text-anchor="end" fill="#4d4d4d" stroke="#4d4d4d">IMR−90</text>
<text x="357.5" y="1901.35" font-size="24.6" text-anchor="end" fill="#4d4d4d" stroke="#4d4d4d">HepG2</text>
<text x="357.5" y="1922.54" font-size="24.6" text-anchor="end" fill="#4d4d4d" stroke="#4d4d4d">HMEC</text>
<text x="357.5" y="1943.73" font-size="24.6" text-anchor="end" fill="#4d4d4d" stroke="#4d4d4d">MCF−7</text>
<text x="357.5" y="1964.92" font-size="24.6" text-anchor="end" fill="#4d4d4d" stroke="#4d4d4d">Calu3</text>
<text x="357.5" y="1986.11" font-size="24.6" text-anchor="end" fill="#4d4d4d" stroke="#4d4d4d">HUVEC</text>
<g fill="#dbdbdb" stroke="#b9b9b9" stroke-width="0.9">
<circle cx="389.3" cy="1786.99" r="8.45"/>
<circle cx="389.3" cy="1808.18" r="8.45"/>
<circle cx="389.3" cy="1829.37" r="8.45"/>
<circle cx="389.3" cy="1850.56" r="8.45"/>
<circle cx="389.3" cy="1871.75" r="8.45"/>
<circle cx="389.3" cy="1892.94" r="8.45"/>
<circle cx="389.3" cy="1914.13" r="8.45"/>
<circle cx="389.3" cy="1935.32" r="8.45"/>
<circle cx="389.3" cy="1956.51" r="8.45"/>
<circle cx="389.3" cy="1977.7" r="8.45"/>
<circle cx="408.2" cy="1765.8" r="8.45"/>
<circle cx="408.2" cy="1808.18" r="8.45"/>
<circle cx="408.2" cy="1829.37" r="8.45"/>
<circle cx="408.2" cy="1850.56" r="8.45"/>
<circle cx="408.2" cy="1871.75" r="8.45"/>
<circle cx="408.2" cy="1892.94" r="8.45"/>
<circle cx="408.2" cy="1914.13" r="8.45"/>
<circle cx="408.2" cy="1935.32" r="8.45"/>
<circle cx="408.2" cy="1956.51" r="8.45"/>
<circle cx="408.2" cy="1977.7" r="8.45"/>
<circle cx="427.1" cy="1765.8" r="8.45"/>
<circle cx="427.1" cy="1786.99" r="8.45"/>
<circle cx="427.1" cy="1829.37" r="8.45"/>
<circle cx="427.1" cy="1850.56" r="8.45"/>
<circle cx="427.1" cy="1871.75" r="8.45"/>
<circle cx="427.1" cy="1892.94" r="8.45"/>
<circle cx="427.1" cy="1914.13" r="8.45"/>
<circle cx="427.1" cy="1935.32" r="8.45"/>
<circle cx="427.1" cy="1956.51" r="8.45"/>
<circle cx="427.1" cy="1977.7" r="8.45"/>
<circle cx="446" cy="1765.8" r="8.45"/>
<circle cx="446" cy="1786.99" r="8.45"/>
<circle cx="446" cy="1808.18" r="8.45"/>
<circle cx="446" cy="1850.56" r="8.45"/>
<circle cx="446" cy="1871.75" r="8.45"/>
<circle cx="446" cy="1892.94" r="8.45"/>
<circle cx="446" cy="1914.13" r="8.45"/>
<circle cx="446" cy="1935.32" r="8.45"/>
<circle cx="446" cy="1956.51" r="8.45"/>
<circle cx="446" cy="1977.7" r="8.45"/>
<circle cx="464.9" cy="1765.8" r="8.45"/>
<circle cx="464.9" cy="1786.99" r="8.45"/>
<circle cx="464.9" cy="1808.18" r="8.45"/>
<circle cx="464.9" cy="1829.37" r="8.45"/>
<circle cx="464.9" cy="1850.56" r="8.45"/>
<circle cx="464.9" cy="1892.94" r="8.45"/>
<circle cx="464.9" cy="1914.13" r="8.45"/>
<circle cx="464.9" cy="1935.32" r="8.45"/>
<circle cx="464.9" cy="1956.51" r="8.45"/>
<circle cx="464.9" cy="1977.7" r="8.45"/>
<circle cx="483.8" cy="1765.8" r="8.45"/>
<circle cx="483.8" cy="1786.99" r="8.45"/>
<circle cx="483.8" cy="1808.18" r="8.45"/>
<circle cx="483.8" cy="1829.37" r="8.45"/>
<circle cx="483.8" cy="1871.75" r="8.45"/>
<circle cx="483.8" cy="1892.94" r="8.45"/>
<circle cx="483.8" cy="1914.13" r="8.45"/>
<circle cx="483.8" cy="1935.32" r="8.45"/>
<circle cx="483.8" cy="1956.51" r="8.45"/>
<circle cx="483.8" cy="1977.7" r="8.45"/>
<circle cx="502.7" cy="1765.8" r="8.45"/>
<circle cx="502.7" cy="1786.99" r="8.45"/>
<circle cx="502.7" cy="1808.18" r="8.45"/>
<circle cx="502.7" cy="1829.37" r="8.45"/>
<circle cx="502.7" cy="1850.56" r="8.45"/>
<circle cx="502.7" cy="1871.75" r="8.45"/>
<circle cx="502.7" cy="1914.13" r="8.45"/>
<circle cx="502.7" cy="1935.32" r="8.45"/>
<circle cx="502.7" cy="1956.51" r="8.45"/>
<circle cx="502.7" cy="1977.7" r="8.45"/>
<circle cx="521.6" cy="1765.8" r="8.45"/>
<circle cx="521.6" cy="1786.99" r="8.45"/>
<circle cx="521.6" cy="1808.18" r="8.45"/>
<circle cx="521.6" cy="1829.37" r="8.45"/>
<circle cx="521.6" cy="1850.56" r="8.45"/>
<circle cx="521.6" cy="1871.75" r="8.45"/>
<circle cx="521.6" cy="1892.94" r="8.45"/>
<circle cx="521.6" cy="1935.32" r="8.45"/>
<circle cx="521.6" cy="1956.51" r="8.45"/>
<circle cx="521.6" cy="1977.7" r="8.45"/>
<circle cx="540.5" cy="1765.8" r="8.45"/>
<circle cx="540.5" cy="1786.99" r="8.45"/>
<circle cx="540.5" cy="1808.18" r="8.45"/>
<circle cx="540.5" cy="1829.37" r="8.45"/>
<circle cx="540.5" cy="1850.56" r="8.45"/>
<circle cx="540.5" cy="1871.75" r="8.45"/>
<circle cx="540.5" cy="1892.94" r="8.45"/>
<circle cx="540.5" cy="1914.13" r="8.45"/>
<circle cx="540.5" cy="1956.51" r="8.45"/>
<circle cx="540.5" cy="1977.7" r="8.45"/>
<circle cx="559.4" cy="1765.8" r="8.45"/>
<circle cx="559.4" cy="1829.37" r="8.45"/>
<circle cx="559.4" cy="1850.56" r="8.45"/>
<circle cx="559.4" cy="1871.75" r="8.45"/>
<circle cx="559.4" cy="1892.94" r="8.45"/>
<circle cx="559.4" cy="1914.13" r="8.45"/>
<circle cx="559.4" cy="1935.32" r="8.45"/>
<circle cx="559.4" cy="1956.51" r="8.45"/>
<circle cx="559.4" cy="1977.7" r="8.45"/>
<circle cx="578.3" cy="1765.8" r="8.45"/>
<circle cx="578.3" cy="1786.99" r="8.45"/>
<circle cx="578.3" cy="1808.18" r="8.45"/>
<circle cx="578.3" cy="1829.37" r="8.45"/>
<circle cx="578.3" cy="1850.56" r="8.45"/>
<circle cx="578.3" cy="1871.75" r="8.45"/>
<circle cx="578.3" cy="1892.94" r="8.45"/>
<circle cx="578.3" cy="1914.13" r="8.45"/>
<circle cx="578.3" cy="1935.32" r="8.45"/>
<circle cx="578.3" cy="1977.7" r="8.45"/>
<circle cx="597.2" cy="1765.8" r="8.45"/>
<circle cx="597.2" cy="1808.18" r="8.45"/>
<circle cx="597.2" cy="1829.37" r="8.45"/>
<circle cx="597.2" cy="1850.56" r="8.45"/>
<circle cx="597.2" cy="1871.75" r="8.45"/>
<circle cx="597.2" cy="1892.94" r="8.45"/>
<circle cx="597.2" cy="1914.13" r="8.45"/>
<circle cx="597.2" cy="1956.51" r="8.45"/>
<circle cx="597.2" cy="1977.7" r="8.45"/>
<circle cx="616.1" cy="1765.8" r="8.45"/>
<circle cx="616.1" cy="1808.18" r="8.45"/>
<circle cx="616.1" cy="1850.56" r="8.45"/>
<circle cx="616.1" cy="1871.75" r="8.45"/>
<circle cx="616.1" cy="1892.94" r="8.45"/>
<circle cx="616.1" cy="1914.13" r="8.45"/>
<circle cx="616.1" cy="1935.32" r="8.45"/>
<circle cx="616.1" cy="1956.51" r="8.45"/>
<circle cx="616.1" cy="1977.7" r="8.45"/>
<circle cx="635" cy="1765.8" r="8.45"/>
<circle cx="635" cy="1786.99" r="8.45"/>
<circle cx="635" cy="1808.18" r="8.45"/>
<circle cx="635" cy="1829.37" r="8.45"/>
<circle cx="635" cy="1850.56" r="8.45"/>
<circle cx="635" cy="1871.75" r="8.45"/>
<circle cx="635" cy="1892.94" r="8.45"/>
<circle cx="635" cy="1914.13" r="8.45"/>
<circle cx="635" cy="1935.32" r="8.45"/>
<circle cx="635" cy="1956.51" r="8.45"/>
<circle cx="653.9" cy="1786.99" r="8.45"/>
<circle cx="653.9" cy="1808.18" r="8.45"/>
<circle cx="653.9" cy="1829.37" r="8.45"/>
<circle cx="653.9" cy="1850.56" r="8.45"/>
<circle cx="653.9" cy="1892.94" r="8.45"/>
<circle cx="653.9" cy="1914.13" r="8.45"/>
<circle cx="653.9" cy="1935.32" r="8.45"/>
<circle cx="653.9" cy="1956.51" r="8.45"/>
<circle cx="653.9" cy="1977.7" r="8.45"/>
<circle cx="672.8" cy="1765.8" r="8.45"/>
<circle cx="672.8" cy="1786.99" r="8.45"/>
<circle cx="672.8" cy="1808.18" r="8.45"/>
<circle cx="672.8" cy="1829.37" r="8.45"/>
<circle cx="672.8" cy="1850.56" r="8.45"/>
<circle cx="672.8" cy="1871.75" r="8.45"/>
<circle cx="672.8" cy="1935.32" r="8.45"/>
<circle cx="672.8" cy="1956.51" r="8.45"/>
<circle cx="672.8" cy="1977.7" r="8.45"/>
<circle cx="691.7" cy="1765.8" r="8.45"/>
<circle cx="691.7" cy="1786.99" r="8.45"/>
<circle cx="691.7" cy="1850.56" r="8.45"/>
<circle cx="691.7" cy="1871.75" r="8.45"/>
<circle cx="691.7" cy="1892.94" r="8.45"/>
<circle cx="691.7" cy="1935.32" r="8.45"/>
<circle cx="691.7" cy="1956.51" r="8.45"/>
<circle cx="691.7" cy="1977.7" r="8.45"/>
<circle cx="710.6" cy="1765.8" r="8.45"/>
<circle cx="710.6" cy="1786.99" r="8.45"/>
<circle cx="710.6" cy="1808.18" r="8.45"/>
<circle cx="710.6" cy="1850.56" r="8.45"/>
<circle cx="710.6" cy="1871.75" r="8.45"/>
<circle cx="710.6" cy="1914.13" r="8.45"/>
<circle cx="710.6" cy="1935.32" r="8.45"/>
<circle cx="710.6" cy="1956.51" r="8.45"/>
<circle cx="710.6" cy="1977.7" r="8.45"/>
<circle cx="729.5" cy="1765.8" r="8.45"/>
<circle cx="729.5" cy="1786.99" r="8.45"/>
<circle cx="729.5" cy="1829.37" r="8.45"/>
<circle cx="729.5" cy="1850.56" r="8.45"/>
<circle cx="729.5" cy="1871.75" r="8.45"/>
<circle cx="729.5" cy="1914.13" r="8.45"/>
<circle cx="729.5" cy="1935.32" r="8.45"/>
<circle cx="729.5" cy="1956.51" r="8.45"/>
<circle cx="729.5" cy="1977.7" r="8.45"/>
<circle cx="748.4" cy="1765.8" r="8.45"/>
<circle cx="748.4" cy="1786.99" r="8.45"/>
<circle cx="748.4" cy="1829.37" r="8.45"/>
<circle cx="748.4" cy="1850.56" r="8.45"/>
<circle cx="748.4" cy="1871.75" r="8.45"/>
<circle cx="748.4" cy="1892.94" r="8.45"/>
<circle cx="748.4" cy="1914.13" r="8.45"/>
<circle cx="748.4" cy="1935.32" r="8.45"/>
<circle cx="748.4" cy="1977.7" r="8.45"/>
<circle cx="767.3" cy="1765.8" r="8.45"/>
<circle cx="767.3" cy="1808.18" r="8.45"/>
<circle cx="767.3" cy="1829.37" r="8.45"/>
<circle cx="767.3" cy="1850.56" r="8.45"/>
<circle cx="767.3" cy="1871.75" r="8.45"/>
<circle cx="767.3" cy="1914.13" r="8.45"/>
<circle cx="767.3" cy="1935.32" r="8.45"/>
<circle cx="767.3" cy="1956.51" r="8.45"/>
<circle cx="767.3" cy="1977.7" r="8.45"/>
<circle cx="786.2" cy="1765.8" r="8.45"/>
<circle cx="786.2" cy="1808.18" r="8.45"/>
<circle cx="786.2" cy="1829.37" r="8.45"/>
<circle cx="786.2" cy="1871.75" r="8.45"/>
<circle cx="786.2" cy="1892.94" r="8.45"/>
<circle cx="786.2" cy="1914.13" r="8.45"/>
<circle cx="786.2" cy="1935.32" r="8.45"/>
<circle cx="786.2" cy="1956.51" r="8.45"/>
<circle cx="786.2" cy="1977.7" r="8.45"/>
<circle cx="805.1" cy="1765.8" r="8.45"/>
<circle cx="805.1" cy="1786.99" r="8.45"/>
<circle cx="805.1" cy="1829.37" r="8.45"/>
<circle cx="805.1" cy="1871.75" r="8.45"/>
<circle cx="805.1" cy="1914.13" r="8.45"/>
<circle cx="805.1" cy="1935.32" r="8.45"/>
<circle cx="805.1" cy="1956.51" r="8.45"/>
<circle cx="805.1" cy="1977.7" r="8.45"/>
<circle cx="824" cy="1765.8" r="8.45"/>
<circle cx="824" cy="1786.99" r="8.45"/>
<circle cx="824" cy="1808.18" r="8.45"/>
<circle cx="824" cy="1829.37" r="8.45"/>
<circle cx="824" cy="1871.75" r="8.45"/>
<circle cx="824" cy="1892.94" r="8.45"/>
<circle cx="824" cy="1914.13" r="8.45"/>
<circle cx="824" cy="1935.32" r="8.45"/>
<circle cx="824" cy="1956.51" r="8.45"/>
<circle cx="842.9" cy="1765.8" r="8.45"/>
<circle cx="842.9" cy="1808.18" r="8.45"/>
<circle cx="842.9" cy="1829.37" r="8.45"/>
<circle cx="842.9" cy="1850.56" r="8.45"/>
<circle cx="842.9" cy="1871.75" r="8.45"/>
<circle cx="842.9" cy="1892.94" r="8.45"/>
<circle cx="842.9" cy="1935.32" r="8.45"/>
<circle cx="842.9" cy="1956.51" r="8.45"/>
<circle cx="842.9" cy="1977.7" r="8.45"/>
<circle cx="861.8" cy="1765.8" r="8.45"/>
<circle cx="861.8" cy="1786.99" r="8.45"/>
<circle cx="861.8" cy="1808.18" r="8.45"/>
<circle cx="861.8" cy="1850.56" r="8.45"/>
<circle cx="861.8" cy="1871.75" r="8.45"/>
<circle cx="861.8" cy="1892.94" r="8.45"/>
<circle cx="861.8" cy="1935.32" r="8.45"/>
<circle cx="861.8" cy="1956.51" r="8.45"/>
<circle cx="861.8" cy="1977.7" r="8.45"/>
<circle cx="880.7" cy="1765.8" r="8.45"/>
<circle cx="880.7" cy="1786.99" r="8.45"/>
<circle cx="880.7" cy="1808.18" r="8.45"/>
<circle cx="880.7" cy="1850.56" r="8.45"/>
<circle cx="880.7" cy="1871.75" r="8.45"/>
<circle cx="880.7" cy="1935.32" r="8.45"/>
<circle cx="880.7" cy="1956.51" r="8.45"/>
<circle cx="880.7" cy="1977.7" r="8.45"/>
<circle cx="899.6" cy="1765.8" r="8.45"/>
<circle cx="899.6" cy="1786.99" r="8.45"/>
<circle cx="899.6" cy="1808.18" r="8.45"/>
<circle cx="899.6" cy="1829.37" r="8.45"/>
<circle cx="899.6" cy="1850.56" r="8.45"/>
<circle cx="899.6" cy="1914.13" r="8.45"/>
<circle cx="899.6" cy="1935.32" r="8.45"/>
<circle cx="899.6" cy="1956.51" r="8.45"/>
<circle cx="899.6" cy="1977.7" r="8.45"/>
<circle cx="918.5" cy="1808.18" r="8.45"/>
<circle cx="918.5" cy="1829.37" r="8.45"/>
<circle cx="918.5" cy="1850.56" r="8.45"/>
<circle cx="918.5" cy="1871.75" r="8.45"/>
<circle cx="918.5" cy="1892.94" r="8.45"/>
<circle cx="918.5" cy="1914.13" r="8.45"/>
<circle cx="918.5" cy="1935.32" r="8.45"/>
<circle cx="918.5" cy="1956.51" r="8.45"/>
<circle cx="918.5" cy="1977.7" r="8.45"/>
<circle cx="937.4" cy="1786.99" r="8.45"/>
<circle cx="937.4" cy="1808.18" r="8.45"/>
<circle cx="937.4" cy="1829.37" r="8.45"/>
<circle cx="937.4" cy="1871.75" r="8.45"/>
<circle cx="937.4" cy="1892.94" r="8.45"/>
<circle cx="937.4" cy="1914.13" r="8.45"/>
<circle cx="937.4" cy="1935.32" r="8.45"/>
<circle cx="937.4" cy="1956.51" r="8.45"/>
<circle cx="937.4" cy="1977.7" r="8.45"/>
</g>
<g fill="#000" stroke="#000" stroke-width="4.6">
<line x1="559.4" x2="559.4" y1="1786.99" y2="1808.18"/>
<line x1="597.2" x2="597.2" y1="1786.99" y2="1935.32"/>
<line x1="616.1" x2="616.1" y1="1786.99" y2="1829.37"/>
<line x1="653.9" x2="653.9" y1="1765.8" y2="1871.75"/>
<line x1="672.8" x2="672.8" y1="1892.94" y2="1914.13"/>
<line x1="691.7" x2="691.7" y1="1808.18" y2="1914.13"/>
<line x1="710.6" x2="710.6" y1="1829.37" y2="1892.94"/>
<line x1="729.5" x2="729.5" y1="1808.18" y2="1892.94"/>
<line x1="748.4" x2="748.4" y1="1808.18" y2="1956.51"/>
<line x1="767.3" x2="767.3" y1="1786.99" y2="1892.94"/>
<line x1="786.2" x2="786.2" y1="1786.99" y2="1850.56"/>
<line x1="805.1" x2="805.1" y1="1808.18" y2="1892.94"/>
<line x1="824" x2="824" y1="1850.56" y2="1977.7"/>
<line x1="842.9" x2="842.9" y1="1786.99" y2="1914.13"/>
<line x1="861.8" x2="861.8" y1="1829.37" y2="1914.13"/>
<line x1="880.7" x2="880.7" y1="1829.37" y2="1914.13"/>
<line x1="899.6" x2="899.6" y1="1871.75" y2="1892.94"/>
<line x1="918.5" x2="918.5" y1="1765.8" y2="1786.99"/>
<line x1="937.4" x2="937.4" y1="1765.8" y2="1850.56"/>
</g><g fill="#000">
<circle cx="389.3" cy="1765.8" r="9.05"/>
<circle cx="408.2" cy="1786.99" r="9.05"/>
<circle cx="427.1" cy="1808.18" r="9.05"/>
<circle cx="446" cy="1829.37" r="9.05"/>
<circle cx="464.9" cy="1871.75" r="9.05"/>
<circle cx="483.8" cy="1850.56" r="9.05"/>
<circle cx="502.7" cy="1892.94" r="9.05"/>
<circle cx="521.6" cy="1914.13" r="9.05"/>
<circle cx="540.5" cy="1935.32" r="9.05"/>
<circle cx="559.4" cy="1786.99" r="9.05"/>
<circle cx="559.4" cy="1808.18" r="9.05"/>
<circle cx="578.3" cy="1956.51" r="9.05"/>
<circle cx="597.2" cy="1786.99" r="9.05"/>
<circle cx="597.2" cy="1935.32" r="9.05"/>
<circle cx="616.1" cy="1786.99" r="9.05"/>
<circle cx="616.1" cy="1829.37" r="9.05"/>
<circle cx="635" cy="1977.7" r="9.05"/>
<circle cx="653.9" cy="1765.8" r="9.05"/>
<circle cx="653.9" cy="1871.75" r="9.05"/>
<circle cx="672.8" cy="1892.94" r="9.05"/>
<circle cx="672.8" cy="1914.13" r="9.05"/>
<circle cx="691.7" cy="1808.18" r="9.05"/>
<circle cx="691.7" cy="1829.37" r="9.05"/>
<circle cx="691.7" cy="1914.13" r="9.05"/>
<circle cx="710.6" cy="1829.37" r="9.05"/>
<circle cx="710.6" cy="1892.94" r="9.05"/>
<circle cx="729.5" cy="1808.18" r="9.05"/>
<circle cx="729.5" cy="1892.94" r="9.05"/>
<circle cx="748.4" cy="1808.18" r="9.05"/>
<circle cx="748.4" cy="1956.51" r="9.05"/>
<circle cx="767.3" cy="1786.99" r="9.05"/>
<circle cx="767.3" cy="1892.94" r="9.05"/>
<circle cx="786.2" cy="1786.99" r="9.05"/>
<circle cx="786.2" cy="1850.56" r="9.05"/>
<circle cx="805.1" cy="1808.18" r="9.05"/>
<circle cx="805.1" cy="1850.56" r="9.05"/>
<circle cx="805.1" cy="1892.94" r="9.05"/>
<circle cx="824" cy="1850.56" r="9.05"/>
<circle cx="824" cy="1977.7" r="9.05"/>
<circle cx="842.9" cy="1786.99" r="9.05"/>
<circle cx="842.9" cy="1914.13" r="9.05"/>
<circle cx="861.8" cy="1829.37" r="9.05"/>
<circle cx="861.8" cy="1914.13" r="9.05"/>
<circle cx="880.7" cy="1829.37" r="9.05"/>
<circle cx="880.7" cy="1892.94" r="9.05"/>
<circle cx="880.7" cy="1914.13" r="9.05"/>
<circle cx="899.6" cy="1871.75" r="9.05"/>
<circle cx="899.6" cy="1892.94" r="9.05"/>
<circle cx="918.5" cy="1765.8" r="9.05"/>
<circle cx="918.5" cy="1786.99" r="9.05"/>
<circle cx="937.4" cy="1765.8" r="9.05"/>
<circle cx="937.4" cy="1850.56" r="9.05"/>
</g>
<text transform="translate(51.21 2036.8) rotate(-90)" font-size="24.6" text-anchor="middle" fill="#4d4d4d" stroke="#4d4d4d">1000</text>
<text transform="translate(82.91 2036.8) rotate(-90)" font-size="24.6" text-anchor="middle" fill="#4d4d4d" stroke="#4d4d4d">750</text>
<text transform="translate(115.41 2036.8) rotate(-90)" font-size="24.6" text-anchor="middle" fill="#4d4d4d" stroke="#4d4d4d">500</text>
<text transform="translate(147.31 2036.8) rotate(-90)" font-size="24.6" text-anchor="middle" fill="#4d4d4d" stroke="#4d4d4d">250</text>
<text transform="translate(180.91 2036.8) rotate(-90)" font-size="24.6" text-anchor="middle" fill="#4d4d4d" stroke="#4d4d4d">0</text>
<text x="97.4" y="2095.5" font-size="28" text-anchor="middle" stroke="#000">Set size</text>
<text x="663.2" y="2095.5" font-size="28" text-anchor="middle" stroke="#000">asRS SNVs</text>
</g>
<g id="panel-f">
<text transform="translate(996.6 1516.9) scale(0.84 1)" font-size="57" font-weight="bold">f</text>
<g stroke="#000" stroke-width="2.5">
<rect x="1169.4" y="1526.05" width="14.1" height="539.25" fill="#88609e"/>
<rect x="1183.5" y="1963.45" width="14.1" height="101.85" fill="#d9d9d9"/>
<rect x="1209.72" y="1737.85" width="14.1" height="327.45" fill="#88609e"/>
<rect x="1223.82" y="1926.35" width="14.1" height="138.95" fill="#d9d9d9"/>
<rect x="1250.04" y="1759.75" width="14.1" height="305.55" fill="#88609e"/>
<rect x="1264.14" y="1960.75" width="14.1" height="104.55" fill="#d9d9d9"/>
<rect x="1290.36" y="1863.35" width="14.1" height="201.95" fill="#88609e"/>
<rect x="1304.46" y="2001.65" width="14.1" height="63.65" fill="#d9d9d9"/>
<rect x="1330.68" y="1872.25" width="14.1" height="193.05" fill="#88609e"/>
<rect x="1344.78" y="2014.25" width="14.1" height="51.05" fill="#d9d9d9"/>
<rect x="1371" y="1924.45" width="14.1" height="140.85" fill="#88609e"/>
<rect x="1385.1" y="2036.75" width="14.1" height="28.55" fill="#d9d9d9"/>
<rect x="1411.32" y="1930.25" width="14.1" height="135.05" fill="#88609e"/>
<rect x="1425.42" y="2039.55" width="14.1" height="25.75" fill="#d9d9d9"/>
<rect x="1451.64" y="1934.65" width="14.1" height="130.65" fill="#88609e"/>
<rect x="1465.74" y="2029.35" width="14.1" height="35.95" fill="#d9d9d9"/>
<rect x="1491.96" y="1937.35" width="14.1" height="127.95" fill="#88609e"/>
<rect x="1506.06" y="2031.85" width="14.1" height="33.45" fill="#d9d9d9"/>
<rect x="1532.28" y="1949.75" width="14.1" height="115.55" fill="#88609e"/>
<rect x="1546.38" y="2032.65" width="14.1" height="32.65" fill="#d9d9d9"/>
<rect x="1572.6" y="1955.45" width="14.1" height="109.85" fill="#88609e"/>
<rect x="1586.7" y="2032.15" width="14.1" height="33.15" fill="#d9d9d9"/>
<rect x="1612.92" y="1959.85" width="14.1" height="105.45" fill="#88609e"/>
<rect x="1627.02" y="2043.35" width="14.1" height="21.95" fill="#d9d9d9"/>
<rect x="1653.24" y="1965.65" width="14.1" height="99.65" fill="#88609e"/>
<rect x="1667.34" y="2027.15" width="14.1" height="38.15" fill="#d9d9d9"/>
<rect x="1693.56" y="1970.35" width="14.1" height="94.95" fill="#88609e"/>
<rect x="1707.66" y="2057.45" width="14.1" height="7.85" fill="#d9d9d9"/>
<rect x="1733.88" y="1971.15" width="14.1" height="94.15" fill="#88609e"/>
<rect x="1747.98" y="2033.75" width="14.1" height="31.55" fill="#d9d9d9"/>
<rect x="1774.2" y="1975.85" width="14.1" height="89.45" fill="#88609e"/>
<rect x="1788.3" y="2039.85" width="14.1" height="25.45" fill="#d9d9d9"/>
<rect x="1814.52" y="1988.95" width="14.1" height="76.35" fill="#88609e"/>
<rect x="1828.62" y="2044.45" width="14.1" height="20.85" fill="#d9d9d9"/>
<rect x="1854.84" y="2008.25" width="14.1" height="57.05" fill="#88609e"/>
<rect x="1868.94" y="2053.05" width="14.1" height="12.25" fill="#d9d9d9"/>
<rect x="1895.16" y="2008.25" width="14.1" height="57.05" fill="#88609e"/>
<rect x="1909.26" y="2052.45" width="14.1" height="12.85" fill="#d9d9d9"/>
<rect x="1935.48" y="2010.15" width="14.1" height="55.15" fill="#88609e"/>
<rect x="1949.58" y="2042.05" width="14.1" height="23.25" fill="#d9d9d9"/>
<rect x="1975.8" y="2010.15" width="14.1" height="55.15" fill="#88609e"/>
<rect x="1989.9" y="2037.35" width="14.1" height="27.95" fill="#d9d9d9"/>
<rect x="2016.12" y="2011.55" width="14.1" height="53.75" fill="#88609e"/>
<rect x="2030.22" y="2056.55" width="14.1" height="8.75" fill="#d9d9d9"/>
<rect x="2056.44" y="2012.35" width="14.1" height="52.95" fill="#88609e"/>
<rect x="2070.54" y="2055.75" width="14.1" height="9.55" fill="#d9d9d9"/>
<rect x="2096.76" y="2013.75" width="14.1" height="51.55" fill="#88609e"/>
<rect x="2110.86" y="2039.25" width="14.1" height="26.05" fill="#d9d9d9"/>
</g>
<text x="1183.9" y="1528.9" font-size="27" text-anchor="middle" stroke="#000" letter-spacing="0.8">***</text>
<text x="1224.22" y="1740.7" font-size="27" text-anchor="middle" stroke="#000" letter-spacing="0.8">***</text>
<text x="1264.54" y="1762.6" font-size="27" text-anchor="middle" stroke="#000" letter-spacing="0.8">***</text>
<text x="1304.86" y="1866.2" font-size="27" text-anchor="middle" stroke="#000" letter-spacing="0.8">***</text>
<text x="1345.18" y="1875.1" font-size="27" text-anchor="middle" stroke="#000" letter-spacing="0.8">**</text>
<text x="1385.5" y="1927.3" font-size="27" text-anchor="middle" stroke="#000" letter-spacing="0.8">***</text>
<text x="1425.82" y="1933.1" font-size="27" text-anchor="middle" stroke="#000" letter-spacing="0.8">***</text>
<text x="1466.14" y="1937.5" font-size="27" text-anchor="middle" stroke="#000" letter-spacing="0.8">***</text>
<text x="1506.46" y="1940.2" font-size="27" text-anchor="middle" stroke="#000" letter-spacing="0.8">***</text>
<text x="1546.78" y="1952.6" font-size="27" text-anchor="middle" stroke="#000" letter-spacing="0.8">***</text>
<text x="1587.1" y="1958.3" font-size="27" text-anchor="middle" stroke="#000" letter-spacing="0.8">***</text>
<text x="1627.42" y="1962.7" font-size="27" text-anchor="middle" stroke="#000" letter-spacing="0.8">***</text>
<text x="1667.74" y="1968.5" font-size="27" text-anchor="middle" stroke="#000" letter-spacing="0.8">***</text>
<text x="1708.06" y="1973.2" font-size="27" text-anchor="middle" stroke="#000" letter-spacing="0.8">***</text>
<text x="1748.38" y="1974" font-size="27" text-anchor="middle" stroke="#000" letter-spacing="0.8">***</text>
<text x="1788.7" y="1978.7" font-size="27" text-anchor="middle" stroke="#000" letter-spacing="0.8">***</text>
<text x="1829.02" y="1991.8" font-size="27" text-anchor="middle" stroke="#000" letter-spacing="0.8">***</text>
<text x="1869.34" y="2011.1" font-size="27" text-anchor="middle" stroke="#000" letter-spacing="0.8">***</text>
<text x="1909.66" y="2011.1" font-size="27" text-anchor="middle" stroke="#000" letter-spacing="0.8">*</text>
<text x="1949.98" y="2013" font-size="27" text-anchor="middle" stroke="#000" letter-spacing="0.8">*</text>
<text x="1990.3" y="2013" font-size="27" text-anchor="middle" stroke="#000" letter-spacing="0.8">**</text>
<text x="2030.62" y="2014.4" font-size="27" text-anchor="middle" stroke="#000" letter-spacing="0.8">**</text>
<text x="2070.94" y="2015.2" font-size="27" text-anchor="middle" stroke="#000" letter-spacing="0.8">***</text>
<text x="2111.26" y="2016.6" font-size="27" text-anchor="middle" stroke="#000" letter-spacing="0.8">*</text>
<path d="M1159 1494 V2092 H2135" fill="none" stroke="#000" stroke-width="4.4"/>
<g stroke="#333" stroke-width="4">
<line x1="1147.5" x2="1156.8" y1="2064.7" y2="2064.7"/>
<line x1="1147.5" x2="1156.8" y1="1923.1" y2="1923.1"/>
<line x1="1147.5" x2="1156.8" y1="1781.5" y2="1781.5"/>
<line x1="1147.5" x2="1156.8" y1="1639.9" y2="1639.9"/>
<line x1="1147.5" x2="1156.8" y1="1498.3" y2="1498.3"/>
<line x1="1183.5" x2="1183.5" y1="2094.2" y2="2103.7"/>
<line x1="1223.82" x2="1223.82" y1="2094.2" y2="2103.7"/>
<line x1="1264.14" x2="1264.14" y1="2094.2" y2="2103.7"/>
<line x1="1304.46" x2="1304.46" y1="2094.2" y2="2103.7"/>
<line x1="1344.78" x2="1344.78" y1="2094.2" y2="2103.7"/>
<line x1="1385.1" x2="1385.1" y1="2094.2" y2="2103.7"/>
<line x1="1425.42" x2="1425.42" y1="2094.2" y2="2103.7"/>
<line x1="1465.74" x2="1465.74" y1="2094.2" y2="2103.7"/>
<line x1="1506.06" x2="1506.06" y1="2094.2" y2="2103.7"/>
<line x1="1546.38" x2="1546.38" y1="2094.2" y2="2103.7"/>
<line x1="1586.7" x2="1586.7" y1="2094.2" y2="2103.7"/>
<line x1="1627.02" x2="1627.02" y1="2094.2" y2="2103.7"/>
<line x1="1667.34" x2="1667.34" y1="2094.2" y2="2103.7"/>
<line x1="1707.66" x2="1707.66" y1="2094.2" y2="2103.7"/>
<line x1="1747.98" x2="1747.98" y1="2094.2" y2="2103.7"/>
<line x1="1788.3" x2="1788.3" y1="2094.2" y2="2103.7"/>
<line x1="1828.62" x2="1828.62" y1="2094.2" y2="2103.7"/>
<line x1="1868.94" x2="1868.94" y1="2094.2" y2="2103.7"/>
<line x1="1909.26" x2="1909.26" y1="2094.2" y2="2103.7"/>
<line x1="1949.58" x2="1949.58" y1="2094.2" y2="2103.7"/>
<line x1="1989.9" x2="1989.9" y1="2094.2" y2="2103.7"/>
<line x1="2030.22" x2="2030.22" y1="2094.2" y2="2103.7"/>
<line x1="2070.54" x2="2070.54" y1="2094.2" y2="2103.7"/>
<line x1="2110.86" x2="2110.86" y1="2094.2" y2="2103.7"/>
</g>
<text transform="translate(1131 2078.9) scale(1 1.075)" font-size="32.3" text-anchor="end" fill="#4d4d4d">0.00</text>
<text transform="translate(1131 1937.3) scale(1 1.075)" font-size="32.3" text-anchor="end" fill="#4d4d4d">0.05</text>
<text transform="translate(1131 1795.7) scale(1 1.075)" font-size="32.3" text-anchor="end" fill="#4d4d4d">0.10</text>
<text transform="translate(1131 1654.1) scale(1 1.075)" font-size="32.3" text-anchor="end" fill="#4d4d4d">0.15</text>
<text transform="translate(1131 1512.5) scale(1 1.075)" font-size="32.3" text-anchor="end" fill="#4d4d4d">0.20</text>
<text transform="translate(1048 1820.3) rotate(-90)" font-size="32" text-anchor="middle" stroke="#000">Proportion</text>
<text transform="translate(1189.5 2122.2) rotate(-60)" font-size="32" text-anchor="end" fill="#4d4d4d" stroke="#4d4d4d">Calu3/OCI−LY7</text>
<text transform="translate(1229.82 2122.2) rotate(-60)" font-size="32" text-anchor="end" fill="#4d4d4d" stroke="#4d4d4d">MCF10A/MCF−7</text>
<text transform="translate(1270.14 2122.2) rotate(-60)" font-size="32" text-anchor="end" fill="#4d4d4d" stroke="#4d4d4d">A673/HUVEC</text>
<text transform="translate(1310.46 2122.2) rotate(-60)" font-size="32" text-anchor="end" fill="#4d4d4d" stroke="#4d4d4d">MCF10A/OCI−LY7</text>
<text transform="translate(1350.78 2122.2) rotate(-60)" font-size="32" text-anchor="end" fill="#4d4d4d" stroke="#4d4d4d">HepG2/HUVEC</text>
<text transform="translate(1391.1 2122.2) rotate(-60)" font-size="32" text-anchor="end" fill="#4d4d4d" stroke="#4d4d4d">GM12878/HepG2</text>
<text transform="translate(1431.42 2122.2) rotate(-60)" font-size="32" text-anchor="end" fill="#4d4d4d" stroke="#4d4d4d">HCT116/HUVEC</text>
<text transform="translate(1471.74 2122.2) rotate(-60)" font-size="32" text-anchor="end" fill="#4d4d4d" stroke="#4d4d4d">GM12878/MCF10A</text>
<text transform="translate(1512.06 2122.2) rotate(-60)" font-size="32" text-anchor="end" fill="#4d4d4d" stroke="#4d4d4d">HepG2/HMEC</text>
<text transform="translate(1552.38 2122.2) rotate(-60)" font-size="32" text-anchor="end" fill="#4d4d4d" stroke="#4d4d4d">A673/MCF10A</text>
<text transform="translate(1592.7 2122.2) rotate(-60)" font-size="32" text-anchor="end" fill="#4d4d4d" stroke="#4d4d4d">HepG2/OCI−LY7</text>
<text transform="translate(1633.02 2122.2) rotate(-60)" font-size="32" text-anchor="end" fill="#4d4d4d" stroke="#4d4d4d">GM12878/HMEC</text>
<text transform="translate(1673.34 2122.2) rotate(-60)" font-size="32" text-anchor="end" fill="#4d4d4d" stroke="#4d4d4d">HepG2/MCF10A</text>
<text transform="translate(1713.66 2122.2) rotate(-60)" font-size="32" text-anchor="end" fill="#4d4d4d" stroke="#4d4d4d">IMR−90/MCF−7</text>
<text transform="translate(1753.98 2122.2) rotate(-60)" font-size="32" text-anchor="end" fill="#4d4d4d" stroke="#4d4d4d">HCT116/IMR−90</text>
<text transform="translate(1794.3 2122.2) rotate(-60)" font-size="32" text-anchor="end" fill="#4d4d4d" stroke="#4d4d4d">A673/HepG2</text>
<text transform="translate(1834.62 2122.2) rotate(-60)" font-size="32" text-anchor="end" fill="#4d4d4d" stroke="#4d4d4d">A673/HMEC</text>
<text transform="translate(1874.94 2122.2) rotate(-60)" font-size="32" text-anchor="end" fill="#4d4d4d" stroke="#4d4d4d">HMEC/OCI−LY7</text>
<text transform="translate(1915.26 2122.2) rotate(-60)" font-size="32" text-anchor="end" fill="#4d4d4d" stroke="#4d4d4d">HUVEC/OCI−LY7</text>
<text transform="translate(1955.58 2122.2) rotate(-60)" font-size="32" text-anchor="end" fill="#4d4d4d" stroke="#4d4d4d">HepG2/IMR−90</text>
<text transform="translate(1995.9 2122.2) rotate(-60)" font-size="32" text-anchor="end" fill="#4d4d4d" stroke="#4d4d4d">GM12878/OCI−LY7</text>
<text transform="translate(2036.22 2122.2) rotate(-60)" font-size="32" text-anchor="end" fill="#4d4d4d" stroke="#4d4d4d">HMEC/HUVEC</text>
<text transform="translate(2076.54 2122.2) rotate(-60)" font-size="32" text-anchor="end" fill="#4d4d4d" stroke="#4d4d4d">HMEC/MCF10A</text>
<text transform="translate(2116.86 2122.2) rotate(-60)" font-size="32" text-anchor="end" fill="#4d4d4d" stroke="#4d4d4d">IMR−90/OCI−LY7</text>
<text x="1774.5" y="1519.8" font-size="32.2" stroke="#000">Proportion Type</text>
<rect x="1778.5" y="1542.2" width="67.2" height="67.5" fill="#88609e" stroke="#000" stroke-width="2.5"/>
<rect x="1778" y="1621.9" width="67.2" height="67" fill="#d9d9d9" stroke="#000" stroke-width="2.5"/>
<text x="1869.5" y="1589.2" font-size="32.2" stroke="#000">Actual</text>
<text x="1868.3" y="1668.7" font-size="32.2" stroke="#000">Expected</text>
</g>
</svg></body></html>
